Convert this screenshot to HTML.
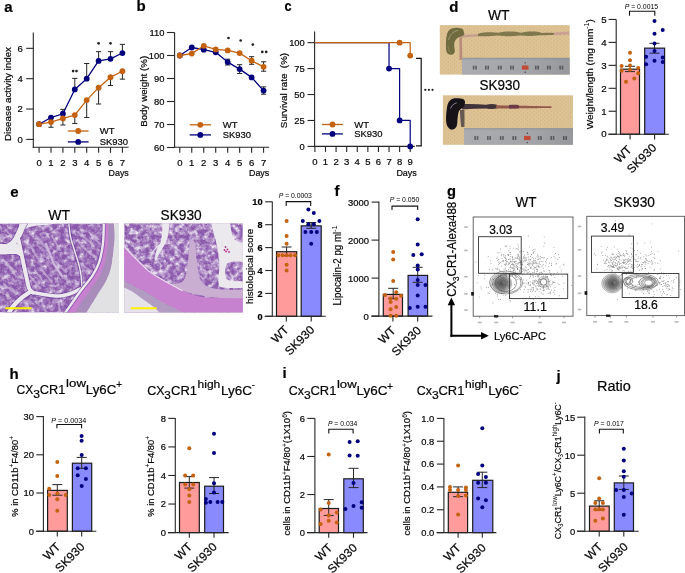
<!DOCTYPE html>
<html><head><meta charset="utf-8"><style>
html,body{margin:0;padding:0;background:#fff;}
svg{display:block;font-family:"Liberation Sans",sans-serif;will-change:transform;}
text{stroke:#161616;stroke-width:0.22px;}
</style></head><body>
<svg width="685" height="573" viewBox="0 0 685 573">
<defs>
<linearGradient id="rulerg" x1="0" y1="0" x2="1" y2="0">
<stop offset="0" stop-color="#aaacb0"/><stop offset="0.6" stop-color="#a3a5a9"/><stop offset="1" stop-color="#96989c"/>
</linearGradient>
<pattern id="spk" width="4.3" height="3.8" patternUnits="userSpaceOnUse"><circle cx="1" cy="1" r="0.5" fill="#8c6a3c" opacity="0.45"/><circle cx="3.15" cy="2.9" r="0.5" fill="#8c6a3c" opacity="0.4"/></pattern>
<radialGradient id="bg1"><stop offset="0" stop-color="#4a4a4a" stop-opacity="0.95"/><stop offset="0.5" stop-color="#6a6a6a" stop-opacity="0.75"/><stop offset="1" stop-color="#999" stop-opacity="0.25"/></radialGradient>
<filter id="txl5" x="0" y="0" width="1" height="1" filterUnits="objectBoundingBox"><feTurbulence type="fractalNoise" baseFrequency="0.2" numOctaves="3" seed="5"/><feColorMatrix type="matrix" values="0 0 0 0 0.80  0 0 0 0 0.74  0 0 0 0 0.85  2.6 0 0 0 -1.08"/></filter>
<filter id="txd5" x="0" y="0" width="1" height="1" filterUnits="objectBoundingBox"><feTurbulence type="fractalNoise" baseFrequency="0.3" numOctaves="2" seed="9"/><feColorMatrix type="matrix" values="0 0 0 0 0.40  0 0 0 0 0.22  0 0 0 0 0.56  0 2.5 0 0 -1.15"/></filter>
<filter id="txl7" x="0" y="0" width="1" height="1" filterUnits="objectBoundingBox"><feTurbulence type="fractalNoise" baseFrequency="0.2" numOctaves="3" seed="7"/><feColorMatrix type="matrix" values="0 0 0 0 0.83  0 0 0 0 0.77  0 0 0 0 0.87  2.7 0 0 0 -1.02"/></filter>
<filter id="txd7" x="0" y="0" width="1" height="1" filterUnits="objectBoundingBox"><feTurbulence type="fractalNoise" baseFrequency="0.3" numOctaves="2" seed="11"/><feColorMatrix type="matrix" values="0 0 0 0 0.40  0 0 0 0 0.22  0 0 0 0 0.56  0 2.5 0 0 -1.15"/></filter>
</defs>
<rect width="685" height="573" fill="#fff"/>
<text x="4.30" y="11.60" font-size="15" font-weight="bold" fill="#000">a</text>
<line x1="33.30" y1="32.50" x2="33.30" y2="147.70" stroke="#262626" stroke-width="1.1" />
<line x1="32.75" y1="147.20" x2="128.60" y2="147.20" stroke="#262626" stroke-width="1.1" />
<line x1="26.20" y1="139.40" x2="33.30" y2="139.40" stroke="#262626" stroke-width="1.1" />
<text x="22.90" y="142.80" font-size="9.5" text-anchor="end">0</text>
<line x1="26.20" y1="109.04" x2="33.30" y2="109.04" stroke="#262626" stroke-width="1.1" />
<text x="22.90" y="112.44" font-size="9.5" text-anchor="end">2</text>
<line x1="26.20" y1="78.68" x2="33.30" y2="78.68" stroke="#262626" stroke-width="1.1" />
<text x="22.90" y="82.08" font-size="9.5" text-anchor="end">4</text>
<line x1="26.20" y1="48.32" x2="33.30" y2="48.32" stroke="#262626" stroke-width="1.1" />
<text x="22.90" y="51.72" font-size="9.5" text-anchor="end">6</text>
<line x1="39.10" y1="147.20" x2="39.10" y2="152.80" stroke="#262626" stroke-width="1.1" />
<text x="39.10" y="165.90" font-size="9.5" text-anchor="middle">0</text>
<line x1="51.00" y1="147.20" x2="51.00" y2="152.80" stroke="#262626" stroke-width="1.1" />
<text x="51.00" y="165.90" font-size="9.5" text-anchor="middle">1</text>
<line x1="62.90" y1="147.20" x2="62.90" y2="152.80" stroke="#262626" stroke-width="1.1" />
<text x="62.90" y="165.90" font-size="9.5" text-anchor="middle">2</text>
<line x1="74.80" y1="147.20" x2="74.80" y2="152.80" stroke="#262626" stroke-width="1.1" />
<text x="74.80" y="165.90" font-size="9.5" text-anchor="middle">3</text>
<line x1="86.70" y1="147.20" x2="86.70" y2="152.80" stroke="#262626" stroke-width="1.1" />
<text x="86.70" y="165.90" font-size="9.5" text-anchor="middle">4</text>
<line x1="98.60" y1="147.20" x2="98.60" y2="152.80" stroke="#262626" stroke-width="1.1" />
<text x="98.60" y="165.90" font-size="9.5" text-anchor="middle">5</text>
<line x1="110.50" y1="147.20" x2="110.50" y2="152.80" stroke="#262626" stroke-width="1.1" />
<text x="110.50" y="165.90" font-size="9.5" text-anchor="middle">6</text>
<line x1="122.40" y1="147.20" x2="122.40" y2="152.80" stroke="#262626" stroke-width="1.1" />
<text x="122.40" y="165.90" font-size="9.5" text-anchor="middle">7</text>
<text x="108.60" y="175.60" font-size="9.6" textLength="20.2" lengthAdjust="spacingAndGlyphs">Days</text>
<text x="11.40" y="94.00" font-size="9.3" text-anchor="middle" textLength="94" lengthAdjust="spacingAndGlyphs" transform="rotate(-90 11.40 94.00)">Disease activity index</text>
<line x1="51.00" y1="122.09" x2="51.00" y2="127.26" stroke="#262626" stroke-width="1.0" />
<line x1="48.40" y1="127.26" x2="53.60" y2="127.26" stroke="#262626" stroke-width="1.0" />
<line x1="62.90" y1="118.45" x2="62.90" y2="124.98" stroke="#262626" stroke-width="1.0" />
<line x1="60.30" y1="124.98" x2="65.50" y2="124.98" stroke="#262626" stroke-width="1.0" />
<line x1="62.90" y1="113.75" x2="62.90" y2="109.34" stroke="#262626" stroke-width="1.0" />
<line x1="60.30" y1="109.34" x2="65.50" y2="109.34" stroke="#262626" stroke-width="1.0" />
<line x1="74.80" y1="115.11" x2="74.80" y2="123.46" stroke="#262626" stroke-width="1.0" />
<line x1="72.20" y1="123.46" x2="77.40" y2="123.46" stroke="#262626" stroke-width="1.0" />
<line x1="74.80" y1="89.46" x2="74.80" y2="78.38" stroke="#262626" stroke-width="1.0" />
<line x1="72.20" y1="78.38" x2="77.40" y2="78.38" stroke="#262626" stroke-width="1.0" />
<line x1="86.70" y1="100.08" x2="86.70" y2="117.54" stroke="#262626" stroke-width="1.0" />
<line x1="84.10" y1="117.54" x2="89.30" y2="117.54" stroke="#262626" stroke-width="1.0" />
<line x1="86.70" y1="78.68" x2="86.70" y2="63.50" stroke="#262626" stroke-width="1.0" />
<line x1="84.10" y1="63.50" x2="89.30" y2="63.50" stroke="#262626" stroke-width="1.0" />
<line x1="98.60" y1="87.64" x2="98.60" y2="104.03" stroke="#262626" stroke-width="1.0" />
<line x1="96.00" y1="104.03" x2="101.20" y2="104.03" stroke="#262626" stroke-width="1.0" />
<line x1="98.60" y1="60.92" x2="98.60" y2="51.66" stroke="#262626" stroke-width="1.0" />
<line x1="96.00" y1="51.66" x2="101.20" y2="51.66" stroke="#262626" stroke-width="1.0" />
<line x1="110.50" y1="77.16" x2="110.50" y2="85.51" stroke="#262626" stroke-width="1.0" />
<line x1="107.90" y1="85.51" x2="113.10" y2="85.51" stroke="#262626" stroke-width="1.0" />
<line x1="110.50" y1="58.79" x2="110.50" y2="51.66" stroke="#262626" stroke-width="1.0" />
<line x1="107.90" y1="51.66" x2="113.10" y2="51.66" stroke="#262626" stroke-width="1.0" />
<line x1="122.40" y1="71.24" x2="122.40" y2="79.14" stroke="#262626" stroke-width="1.0" />
<line x1="119.80" y1="79.14" x2="125.00" y2="79.14" stroke="#262626" stroke-width="1.0" />
<line x1="122.40" y1="53.03" x2="122.40" y2="44.37" stroke="#262626" stroke-width="1.0" />
<line x1="119.80" y1="44.37" x2="125.00" y2="44.37" stroke="#262626" stroke-width="1.0" />
<polyline points="39.10,124.22 51.00,117.54 62.90,113.75 74.80,89.46 86.70,78.68 98.60,60.92 110.50,58.79 122.40,53.03" fill="none" stroke="#00007f" stroke-width="1.3" stroke-linejoin="round" />
<polyline points="39.10,124.22 51.00,122.09 62.90,118.45 74.80,115.11 86.70,100.08 98.60,87.64 110.50,77.16 122.40,71.24" fill="none" stroke="#c4620f" stroke-width="1.3" stroke-linejoin="round" />
<circle cx="39.10" cy="124.22" r="2.9" fill="#00007f"/>
<circle cx="51.00" cy="117.54" r="2.9" fill="#00007f"/>
<circle cx="62.90" cy="113.75" r="2.9" fill="#00007f"/>
<circle cx="74.80" cy="89.46" r="2.9" fill="#00007f"/>
<circle cx="86.70" cy="78.68" r="2.9" fill="#00007f"/>
<circle cx="98.60" cy="60.92" r="2.9" fill="#00007f"/>
<circle cx="110.50" cy="58.79" r="2.9" fill="#00007f"/>
<circle cx="122.40" cy="53.03" r="2.9" fill="#00007f"/>
<circle cx="39.10" cy="124.22" r="2.9" fill="#c4620f"/>
<circle cx="51.00" cy="122.09" r="2.9" fill="#c4620f"/>
<circle cx="62.90" cy="118.45" r="2.9" fill="#c4620f"/>
<circle cx="74.80" cy="115.11" r="2.9" fill="#c4620f"/>
<circle cx="86.70" cy="100.08" r="2.9" fill="#c4620f"/>
<circle cx="98.60" cy="87.64" r="2.9" fill="#c4620f"/>
<circle cx="110.50" cy="77.16" r="2.9" fill="#c4620f"/>
<circle cx="122.40" cy="71.24" r="2.9" fill="#c4620f"/>
<circle cx="73.10" cy="71.10" r="1.35" fill="#222"/>
<circle cx="76.50" cy="71.10" r="1.35" fill="#222"/>
<circle cx="98.60" cy="43.30" r="1.35" fill="#222"/>
<circle cx="110.50" cy="43.30" r="1.35" fill="#222"/>
<line x1="67.80" y1="131.00" x2="88.60" y2="131.00" stroke="#c4620f" stroke-width="1.3" />
<circle cx="78.20" cy="131.00" r="2.9" fill="#c4620f"/>
<line x1="67.80" y1="141.90" x2="88.60" y2="141.90" stroke="#00007f" stroke-width="1.3" />
<circle cx="78.20" cy="141.90" r="2.9" fill="#00007f"/>
<text x="99.80" y="134.47" font-size="9.7" textLength="14.8" lengthAdjust="spacingAndGlyphs">WT</text>
<text x="99.80" y="145.37" font-size="9.7" textLength="28.3" lengthAdjust="spacingAndGlyphs">SK930</text>
<text x="136.50" y="11.40" font-size="15" font-weight="bold" fill="#000">b</text>
<line x1="174.60" y1="32.50" x2="174.60" y2="147.80" stroke="#262626" stroke-width="1.1" />
<line x1="174.05" y1="147.30" x2="269.20" y2="147.30" stroke="#262626" stroke-width="1.1" />
<line x1="167.00" y1="147.50" x2="174.60" y2="147.50" stroke="#262626" stroke-width="1.1" />
<text x="164.50" y="150.87" font-size="9.4" text-anchor="end">60</text>
<line x1="167.00" y1="124.50" x2="174.60" y2="124.50" stroke="#262626" stroke-width="1.1" />
<text x="164.50" y="127.87" font-size="9.4" text-anchor="end">70</text>
<line x1="167.00" y1="101.50" x2="174.60" y2="101.50" stroke="#262626" stroke-width="1.1" />
<text x="164.50" y="104.87" font-size="9.4" text-anchor="end">80</text>
<line x1="167.00" y1="78.50" x2="174.60" y2="78.50" stroke="#262626" stroke-width="1.1" />
<text x="164.50" y="81.87" font-size="9.4" text-anchor="end">90</text>
<line x1="167.00" y1="55.50" x2="174.60" y2="55.50" stroke="#262626" stroke-width="1.1" />
<text x="164.50" y="58.87" font-size="9.4" text-anchor="end">100</text>
<line x1="167.00" y1="32.50" x2="174.60" y2="32.50" stroke="#262626" stroke-width="1.1" />
<text x="164.50" y="35.87" font-size="9.4" text-anchor="end">110</text>
<line x1="179.80" y1="147.30" x2="179.80" y2="152.80" stroke="#262626" stroke-width="1.1" />
<text x="179.80" y="166.10" font-size="9.5" text-anchor="middle">0</text>
<line x1="191.77" y1="147.30" x2="191.77" y2="152.80" stroke="#262626" stroke-width="1.1" />
<text x="191.77" y="166.10" font-size="9.5" text-anchor="middle">1</text>
<line x1="203.74" y1="147.30" x2="203.74" y2="152.80" stroke="#262626" stroke-width="1.1" />
<text x="203.74" y="166.10" font-size="9.5" text-anchor="middle">2</text>
<line x1="215.71" y1="147.30" x2="215.71" y2="152.80" stroke="#262626" stroke-width="1.1" />
<text x="215.71" y="166.10" font-size="9.5" text-anchor="middle">3</text>
<line x1="227.68" y1="147.30" x2="227.68" y2="152.80" stroke="#262626" stroke-width="1.1" />
<text x="227.68" y="166.10" font-size="9.5" text-anchor="middle">4</text>
<line x1="239.65" y1="147.30" x2="239.65" y2="152.80" stroke="#262626" stroke-width="1.1" />
<text x="239.65" y="166.10" font-size="9.5" text-anchor="middle">5</text>
<line x1="251.62" y1="147.30" x2="251.62" y2="152.80" stroke="#262626" stroke-width="1.1" />
<text x="251.62" y="166.10" font-size="9.5" text-anchor="middle">6</text>
<line x1="263.59" y1="147.30" x2="263.59" y2="152.80" stroke="#262626" stroke-width="1.1" />
<text x="263.59" y="166.10" font-size="9.5" text-anchor="middle">7</text>
<text x="249.00" y="175.60" font-size="9.6" textLength="20.2" lengthAdjust="spacingAndGlyphs">Days</text>
<text x="146.80" y="91.30" font-size="9.3" text-anchor="middle" textLength="71" lengthAdjust="spacingAndGlyphs" transform="rotate(-90 146.80 91.30)">Body weight (%)</text>
<line x1="227.68" y1="59.20" x2="227.68" y2="65.00" stroke="#262626" stroke-width="1.0" />
<line x1="225.08" y1="59.20" x2="230.28" y2="59.20" stroke="#262626" stroke-width="1.0" />
<line x1="225.08" y1="65.00" x2="230.28" y2="65.00" stroke="#262626" stroke-width="1.0" />
<line x1="239.65" y1="64.70" x2="239.65" y2="73.50" stroke="#262626" stroke-width="1.0" />
<line x1="237.05" y1="64.70" x2="242.25" y2="64.70" stroke="#262626" stroke-width="1.0" />
<line x1="237.05" y1="73.50" x2="242.25" y2="73.50" stroke="#262626" stroke-width="1.0" />
<line x1="263.59" y1="86.90" x2="263.59" y2="94.20" stroke="#262626" stroke-width="1.0" />
<line x1="260.99" y1="86.90" x2="266.19" y2="86.90" stroke="#262626" stroke-width="1.0" />
<line x1="260.99" y1="94.20" x2="266.19" y2="94.20" stroke="#262626" stroke-width="1.0" />
<line x1="251.62" y1="56.70" x2="251.62" y2="64.30" stroke="#262626" stroke-width="1.0" />
<line x1="249.02" y1="56.70" x2="254.22" y2="56.70" stroke="#262626" stroke-width="1.0" />
<line x1="249.02" y1="64.30" x2="254.22" y2="64.30" stroke="#262626" stroke-width="1.0" />
<line x1="263.59" y1="61.80" x2="263.59" y2="71.20" stroke="#262626" stroke-width="1.0" />
<line x1="260.99" y1="61.80" x2="266.19" y2="61.80" stroke="#262626" stroke-width="1.0" />
<line x1="260.99" y1="71.20" x2="266.19" y2="71.20" stroke="#262626" stroke-width="1.0" />
<polyline points="179.80,55.50 191.77,47.50 203.74,49.70 215.71,52.30 227.68,62.10 239.65,69.10 251.62,77.40 263.59,90.60" fill="none" stroke="#00007f" stroke-width="1.3" stroke-linejoin="round" />
<polyline points="179.80,55.50 191.77,53.60 203.74,45.80 215.71,49.40 227.68,50.40 239.65,53.10 251.62,60.70 263.59,66.80" fill="none" stroke="#c4620f" stroke-width="1.3" stroke-linejoin="round" />
<circle cx="179.80" cy="55.50" r="2.9" fill="#00007f"/>
<circle cx="191.77" cy="47.50" r="2.9" fill="#00007f"/>
<circle cx="203.74" cy="49.70" r="2.9" fill="#00007f"/>
<circle cx="215.71" cy="52.30" r="2.9" fill="#00007f"/>
<circle cx="227.68" cy="62.10" r="2.9" fill="#00007f"/>
<circle cx="239.65" cy="69.10" r="2.9" fill="#00007f"/>
<circle cx="251.62" cy="77.40" r="2.9" fill="#00007f"/>
<circle cx="263.59" cy="90.60" r="2.9" fill="#00007f"/>
<circle cx="179.80" cy="55.50" r="2.9" fill="#c4620f"/>
<circle cx="191.77" cy="53.60" r="2.9" fill="#c4620f"/>
<circle cx="203.74" cy="45.80" r="2.9" fill="#c4620f"/>
<circle cx="215.71" cy="49.40" r="2.9" fill="#c4620f"/>
<circle cx="227.68" cy="50.40" r="2.9" fill="#c4620f"/>
<circle cx="239.65" cy="53.10" r="2.9" fill="#c4620f"/>
<circle cx="251.62" cy="60.70" r="2.9" fill="#c4620f"/>
<circle cx="263.59" cy="66.80" r="2.9" fill="#c4620f"/>
<circle cx="228.50" cy="38.00" r="1.35" fill="#222"/>
<circle cx="240.70" cy="40.50" r="1.35" fill="#222"/>
<circle cx="252.80" cy="44.60" r="1.35" fill="#222"/>
<circle cx="262.30" cy="51.90" r="1.35" fill="#222"/>
<circle cx="266.20" cy="51.90" r="1.35" fill="#222"/>
<line x1="189.70" y1="124.80" x2="211.00" y2="124.80" stroke="#c4620f" stroke-width="1.3" />
<circle cx="200.30" cy="124.80" r="2.9" fill="#c4620f"/>
<line x1="189.70" y1="134.90" x2="211.00" y2="134.90" stroke="#00007f" stroke-width="1.3" />
<circle cx="200.30" cy="134.90" r="2.9" fill="#00007f"/>
<text x="222.80" y="128.27" font-size="9.7" textLength="14.8" lengthAdjust="spacingAndGlyphs">WT</text>
<text x="222.80" y="138.37" font-size="9.7" textLength="28.3" lengthAdjust="spacingAndGlyphs">SK930</text>
<text x="284.60" y="11.40" font-size="15" font-weight="bold" textLength="7.0" lengthAdjust="spacingAndGlyphs" fill="#000">c</text>
<line x1="314.60" y1="31.40" x2="314.60" y2="146.90" stroke="#262626" stroke-width="1.1" />
<line x1="314.05" y1="146.40" x2="414.80" y2="146.40" stroke="#262626" stroke-width="1.1" />
<line x1="307.50" y1="146.40" x2="314.60" y2="146.40" stroke="#262626" stroke-width="1.1" />
<text x="304.80" y="149.77" font-size="9.4" text-anchor="end">0</text>
<line x1="307.50" y1="120.46" x2="314.60" y2="120.46" stroke="#262626" stroke-width="1.1" />
<text x="304.80" y="123.83" font-size="9.4" text-anchor="end">25</text>
<line x1="307.50" y1="94.52" x2="314.60" y2="94.52" stroke="#262626" stroke-width="1.1" />
<text x="304.80" y="97.89" font-size="9.4" text-anchor="end">50</text>
<line x1="307.50" y1="68.58" x2="314.60" y2="68.58" stroke="#262626" stroke-width="1.1" />
<text x="304.80" y="71.95" font-size="9.4" text-anchor="end">75</text>
<line x1="307.50" y1="42.64" x2="314.60" y2="42.64" stroke="#262626" stroke-width="1.1" />
<text x="304.80" y="46.01" font-size="9.4" text-anchor="end">100</text>
<line x1="314.90" y1="146.40" x2="314.90" y2="151.90" stroke="#262626" stroke-width="1.1" />
<text x="314.90" y="164.80" font-size="9.5" text-anchor="middle">0</text>
<line x1="325.49" y1="146.40" x2="325.49" y2="151.90" stroke="#262626" stroke-width="1.1" />
<text x="325.49" y="164.80" font-size="9.5" text-anchor="middle">1</text>
<line x1="336.08" y1="146.40" x2="336.08" y2="151.90" stroke="#262626" stroke-width="1.1" />
<text x="336.08" y="164.80" font-size="9.5" text-anchor="middle">2</text>
<line x1="346.67" y1="146.40" x2="346.67" y2="151.90" stroke="#262626" stroke-width="1.1" />
<text x="346.67" y="164.80" font-size="9.5" text-anchor="middle">3</text>
<line x1="357.26" y1="146.40" x2="357.26" y2="151.90" stroke="#262626" stroke-width="1.1" />
<text x="357.26" y="164.80" font-size="9.5" text-anchor="middle">4</text>
<line x1="367.85" y1="146.40" x2="367.85" y2="151.90" stroke="#262626" stroke-width="1.1" />
<text x="367.85" y="164.80" font-size="9.5" text-anchor="middle">5</text>
<line x1="378.44" y1="146.40" x2="378.44" y2="151.90" stroke="#262626" stroke-width="1.1" />
<text x="378.44" y="164.80" font-size="9.5" text-anchor="middle">6</text>
<line x1="389.03" y1="146.40" x2="389.03" y2="151.90" stroke="#262626" stroke-width="1.1" />
<text x="389.03" y="164.80" font-size="9.5" text-anchor="middle">7</text>
<line x1="399.62" y1="146.40" x2="399.62" y2="151.90" stroke="#262626" stroke-width="1.1" />
<text x="399.62" y="164.80" font-size="9.5" text-anchor="middle">8</text>
<line x1="410.21" y1="146.40" x2="410.21" y2="151.90" stroke="#262626" stroke-width="1.1" />
<text x="410.21" y="164.80" font-size="9.5" text-anchor="middle">9</text>
<text x="396.40" y="175.60" font-size="9.6" textLength="20.4" lengthAdjust="spacingAndGlyphs">Days</text>
<text x="286.80" y="90.50" font-size="9.3" text-anchor="middle" textLength="75.3" lengthAdjust="spacingAndGlyphs" transform="rotate(-90 286.80 90.50)" style="white-space:pre">Survival rate  (%)</text>
<polyline points="314.60,42.64 389.03,42.64 389.03,68.58 399.62,68.58 399.62,120.46 410.21,120.46 410.21,146.40" fill="none" stroke="#00007f" stroke-width="1.2" stroke-linejoin="round" stroke-linejoin="miter"/>
<polyline points="314.60,42.64 410.21,42.64 410.21,55.61" fill="none" stroke="#c4620f" stroke-width="1.2" stroke-linejoin="round" stroke-linejoin="miter"/>
<circle cx="389.03" cy="68.58" r="2.9" fill="#00007f"/>
<circle cx="399.62" cy="120.46" r="2.9" fill="#00007f"/>
<circle cx="410.21" cy="146.40" r="2.9" fill="#00007f"/>
<circle cx="399.62" cy="42.64" r="2.9" fill="#c4620f"/>
<circle cx="410.21" cy="55.61" r="2.9" fill="#c4620f"/>
<path d="M416.0,58.3 H421.2 V145.8 H416.0" fill="none" stroke="#111" stroke-width="1.2" />
<circle cx="425.30" cy="89.80" r="1.15" fill="#222"/>
<circle cx="428.90" cy="89.80" r="1.15" fill="#222"/>
<circle cx="432.50" cy="89.80" r="1.15" fill="#222"/>
<line x1="321.90" y1="124.50" x2="342.90" y2="124.50" stroke="#c4620f" stroke-width="1.3" />
<circle cx="332.50" cy="124.50" r="2.9" fill="#c4620f"/>
<line x1="321.90" y1="133.90" x2="342.90" y2="133.90" stroke="#00007f" stroke-width="1.3" />
<circle cx="332.50" cy="133.90" r="2.9" fill="#00007f"/>
<text x="354.20" y="127.97" font-size="9.7" textLength="14.8" lengthAdjust="spacingAndGlyphs">WT</text>
<text x="354.20" y="137.37" font-size="9.7" textLength="28.3" lengthAdjust="spacingAndGlyphs">SK930</text>
<text x="449.20" y="11.60" font-size="15" font-weight="bold" fill="#000">d</text>
<text x="487.90" y="19.50" font-size="14" textLength="21.6" lengthAdjust="spacingAndGlyphs">WT</text>
<text x="479.50" y="90.10" font-size="14.3" textLength="40.6" lengthAdjust="spacingAndGlyphs">SK930</text>
<g>
<rect x="439.80" y="25.10" width="129.90" height="49.50" fill="#dec395" />
<rect x="439.80" y="25.10" width="129.90" height="49.50" fill="url(#spk)" />
<rect x="462.0" y="57.9" width="107.70000000000005" height="16.699999999999996" fill="url(#rulerg)"/>
<line x1="462.00" y1="58.30" x2="569.70" y2="58.30" stroke="#8f9296" stroke-width="0.8" />
<rect x="472.80" y="65.70" width="1.60" height="3.80" fill="#2a2b2e" opacity="0.6"/>
<rect x="475.20" y="65.70" width="1.60" height="3.80" fill="#2a2b2e" opacity="0.6"/>
<rect x="485.00" y="65.70" width="1.60" height="3.80" fill="#2a2b2e" opacity="0.6"/>
<rect x="487.40" y="65.70" width="1.60" height="3.80" fill="#2a2b2e" opacity="0.6"/>
<rect x="497.80" y="65.70" width="1.60" height="3.80" fill="#2a2b2e" opacity="0.6"/>
<rect x="500.20" y="65.70" width="1.60" height="3.80" fill="#2a2b2e" opacity="0.6"/>
<rect x="510.00" y="65.70" width="1.60" height="3.80" fill="#2a2b2e" opacity="0.6"/>
<rect x="512.40" y="65.70" width="1.60" height="3.80" fill="#2a2b2e" opacity="0.6"/>
<rect x="521.90" y="65.50" width="6.60" height="4.20" fill="#c24a38" />
<circle cx="525.20" cy="62.80" r="0.6" fill="#222"/>
<circle cx="525.20" cy="72.20" r="0.6" fill="#222"/>
<rect x="535.00" y="65.70" width="1.60" height="3.80" fill="#2a2b2e" opacity="0.6"/>
<rect x="537.40" y="65.70" width="1.60" height="3.80" fill="#2a2b2e" opacity="0.6"/>
<rect x="546.90" y="65.70" width="1.60" height="3.80" fill="#2a2b2e" opacity="0.6"/>
<rect x="549.30" y="65.70" width="1.60" height="3.80" fill="#2a2b2e" opacity="0.6"/>
<rect x="559.30" y="65.70" width="1.60" height="3.80" fill="#2a2b2e" opacity="0.6"/>
<rect x="561.70" y="65.70" width="1.60" height="3.80" fill="#2a2b2e" opacity="0.6"/>
<line x1="464.00" y1="58.40" x2="464.00" y2="59.90" stroke="#8a8d92" stroke-width="0.4" />
<line x1="466.45" y1="58.40" x2="466.45" y2="59.90" stroke="#8a8d92" stroke-width="0.4" />
<line x1="468.90" y1="58.40" x2="468.90" y2="59.90" stroke="#8a8d92" stroke-width="0.4" />
<line x1="471.35" y1="58.40" x2="471.35" y2="59.90" stroke="#8a8d92" stroke-width="0.4" />
<line x1="473.80" y1="58.40" x2="473.80" y2="59.90" stroke="#8a8d92" stroke-width="0.4" />
<line x1="476.25" y1="58.40" x2="476.25" y2="59.90" stroke="#8a8d92" stroke-width="0.4" />
<line x1="478.70" y1="58.40" x2="478.70" y2="59.90" stroke="#8a8d92" stroke-width="0.4" />
<line x1="481.15" y1="58.40" x2="481.15" y2="59.90" stroke="#8a8d92" stroke-width="0.4" />
<line x1="483.60" y1="58.40" x2="483.60" y2="59.90" stroke="#8a8d92" stroke-width="0.4" />
<line x1="486.05" y1="58.40" x2="486.05" y2="59.90" stroke="#8a8d92" stroke-width="0.4" />
<line x1="488.50" y1="58.40" x2="488.50" y2="59.90" stroke="#8a8d92" stroke-width="0.4" />
<line x1="490.95" y1="58.40" x2="490.95" y2="59.90" stroke="#8a8d92" stroke-width="0.4" />
<line x1="493.40" y1="58.40" x2="493.40" y2="59.90" stroke="#8a8d92" stroke-width="0.4" />
<line x1="495.85" y1="58.40" x2="495.85" y2="59.90" stroke="#8a8d92" stroke-width="0.4" />
<line x1="498.30" y1="58.40" x2="498.30" y2="59.90" stroke="#8a8d92" stroke-width="0.4" />
<line x1="500.75" y1="58.40" x2="500.75" y2="59.90" stroke="#8a8d92" stroke-width="0.4" />
<line x1="503.20" y1="58.40" x2="503.20" y2="59.90" stroke="#8a8d92" stroke-width="0.4" />
<line x1="505.65" y1="58.40" x2="505.65" y2="59.90" stroke="#8a8d92" stroke-width="0.4" />
<line x1="508.10" y1="58.40" x2="508.10" y2="59.90" stroke="#8a8d92" stroke-width="0.4" />
<line x1="510.55" y1="58.40" x2="510.55" y2="59.90" stroke="#8a8d92" stroke-width="0.4" />
<line x1="513.00" y1="58.40" x2="513.00" y2="59.90" stroke="#8a8d92" stroke-width="0.4" />
<line x1="515.45" y1="58.40" x2="515.45" y2="59.90" stroke="#8a8d92" stroke-width="0.4" />
<line x1="517.90" y1="58.40" x2="517.90" y2="59.90" stroke="#8a8d92" stroke-width="0.4" />
<line x1="520.35" y1="58.40" x2="520.35" y2="59.90" stroke="#8a8d92" stroke-width="0.4" />
<line x1="522.80" y1="58.40" x2="522.80" y2="59.90" stroke="#8a8d92" stroke-width="0.4" />
<line x1="525.25" y1="58.40" x2="525.25" y2="59.90" stroke="#8a8d92" stroke-width="0.4" />
<line x1="527.70" y1="58.40" x2="527.70" y2="59.90" stroke="#8a8d92" stroke-width="0.4" />
<line x1="530.15" y1="58.40" x2="530.15" y2="59.90" stroke="#8a8d92" stroke-width="0.4" />
<line x1="532.60" y1="58.40" x2="532.60" y2="59.90" stroke="#8a8d92" stroke-width="0.4" />
<line x1="535.05" y1="58.40" x2="535.05" y2="59.90" stroke="#8a8d92" stroke-width="0.4" />
<line x1="537.50" y1="58.40" x2="537.50" y2="59.90" stroke="#8a8d92" stroke-width="0.4" />
<line x1="539.95" y1="58.40" x2="539.95" y2="59.90" stroke="#8a8d92" stroke-width="0.4" />
<line x1="542.40" y1="58.40" x2="542.40" y2="59.90" stroke="#8a8d92" stroke-width="0.4" />
<line x1="544.85" y1="58.40" x2="544.85" y2="59.90" stroke="#8a8d92" stroke-width="0.4" />
<line x1="547.30" y1="58.40" x2="547.30" y2="59.90" stroke="#8a8d92" stroke-width="0.4" />
<line x1="549.75" y1="58.40" x2="549.75" y2="59.90" stroke="#8a8d92" stroke-width="0.4" />
<line x1="552.20" y1="58.40" x2="552.20" y2="59.90" stroke="#8a8d92" stroke-width="0.4" />
<line x1="554.65" y1="58.40" x2="554.65" y2="59.90" stroke="#8a8d92" stroke-width="0.4" />
<line x1="557.10" y1="58.40" x2="557.10" y2="59.90" stroke="#8a8d92" stroke-width="0.4" />
<line x1="559.55" y1="58.40" x2="559.55" y2="59.90" stroke="#8a8d92" stroke-width="0.4" />
<line x1="562.00" y1="58.40" x2="562.00" y2="59.90" stroke="#8a8d92" stroke-width="0.4" />
<line x1="564.45" y1="58.40" x2="564.45" y2="59.90" stroke="#8a8d92" stroke-width="0.4" />
<line x1="566.90" y1="58.40" x2="566.90" y2="59.90" stroke="#8a8d92" stroke-width="0.4" />
<path d="M459.4,37 C459.2,44 459.8,51 459.4,60 L462.2,60 C462.6,51 461.8,44 462.0,37 Z" fill="#b98b79" />
<path d="M459,35.4 C466,34.8 473,34.4 480,34.0 L480,36.6 C473,36.8 466,37.2 459,38.0 Z" fill="#c6a08c" />
<path d="M478,33.8 C484,31.8 493,32.0 498,32.8 C505,31.2 515,31.2 521,32.8 C528,31.0 537,31.2 542,33.0 C548,32.8 552,32.8 555,33.2 L555,34.8 C548,35.2 544,35.4 540,35.2 C532,36.2 526,36.0 520,35.4 C512,36.4 504,36.4 498,35.6 C490,36.4 484,36.4 478,36.0 Z" fill="#7f784c" />
<path d="M554,32.4 C560,32.2 565,32.0 569,31.6 L569,34.8 C565,34.6 560,34.8 554,35.2 Z" fill="#c9a292" />
<path d="M463.9,32.2 C463.6,30.0 462.8,28.9 462.0,28.7 C459.5,27.8 457.5,27.6 455.7,27.8 C453.5,28.0 452.0,28.4 450.7,29.0 C448.2,30.6 447.2,32.6 446.9,34.7 C446.3,37.2 446.0,39.4 446.0,41.6 C446.0,44.4 445.9,46.8 446.0,49.1 C446.3,51.6 447.0,53.4 448.2,54.1 C449.6,54.8 451.2,54.8 452.6,54.5 C454.2,53.6 455.0,52.0 454.8,50.4 C454.6,48.4 454.1,46.6 454.1,44.7 C454.2,43.0 454.6,41.6 455.4,40.3 C456.4,38.8 457.5,37.8 458.8,37.2 C460.0,36.6 461.3,36.2 462.6,35.9 C463.4,35.4 464.1,34.8 464.5,34.0 Z" fill="#716c40" />
<path d="M448.6,40 C449.4,35.5 452.5,31.5 458,30.4" fill="none" stroke="#a8a27a" stroke-width="0.9" />
<path d="M448.2,46 C448.2,49 449,51 450.5,52.5" fill="none" stroke="#8f8a62" stroke-width="0.7" />
</g>
<g>
<rect x="442.90" y="95.30" width="130.10" height="49.50" fill="#dec395" />
<rect x="442.90" y="95.30" width="130.10" height="49.50" fill="url(#spk)" />
<rect x="464.0" y="128.3" width="109.0" height="16.5" fill="url(#rulerg)"/>
<line x1="464.00" y1="128.70" x2="573.00" y2="128.70" stroke="#8f9296" stroke-width="0.8" />
<rect x="474.30" y="136.10" width="1.60" height="3.80" fill="#2a2b2e" opacity="0.6"/>
<rect x="476.70" y="136.10" width="1.60" height="3.80" fill="#2a2b2e" opacity="0.6"/>
<rect x="487.00" y="136.10" width="1.60" height="3.80" fill="#2a2b2e" opacity="0.6"/>
<rect x="489.40" y="136.10" width="1.60" height="3.80" fill="#2a2b2e" opacity="0.6"/>
<rect x="499.80" y="136.10" width="1.60" height="3.80" fill="#2a2b2e" opacity="0.6"/>
<rect x="502.20" y="136.10" width="1.60" height="3.80" fill="#2a2b2e" opacity="0.6"/>
<rect x="512.40" y="136.10" width="1.60" height="3.80" fill="#2a2b2e" opacity="0.6"/>
<rect x="514.80" y="136.10" width="1.60" height="3.80" fill="#2a2b2e" opacity="0.6"/>
<rect x="524.00" y="135.90" width="6.60" height="4.20" fill="#c24a38" />
<circle cx="527.30" cy="133.20" r="0.6" fill="#222"/>
<circle cx="527.30" cy="142.60" r="0.6" fill="#222"/>
<rect x="537.80" y="136.10" width="1.60" height="3.80" fill="#2a2b2e" opacity="0.6"/>
<rect x="540.20" y="136.10" width="1.60" height="3.80" fill="#2a2b2e" opacity="0.6"/>
<rect x="550.40" y="136.10" width="1.60" height="3.80" fill="#2a2b2e" opacity="0.6"/>
<rect x="552.80" y="136.10" width="1.60" height="3.80" fill="#2a2b2e" opacity="0.6"/>
<rect x="563.00" y="136.10" width="1.60" height="3.80" fill="#2a2b2e" opacity="0.6"/>
<rect x="565.40" y="136.10" width="1.60" height="3.80" fill="#2a2b2e" opacity="0.6"/>
<line x1="466.00" y1="128.80" x2="466.00" y2="130.30" stroke="#8a8d92" stroke-width="0.4" />
<line x1="468.45" y1="128.80" x2="468.45" y2="130.30" stroke="#8a8d92" stroke-width="0.4" />
<line x1="470.90" y1="128.80" x2="470.90" y2="130.30" stroke="#8a8d92" stroke-width="0.4" />
<line x1="473.35" y1="128.80" x2="473.35" y2="130.30" stroke="#8a8d92" stroke-width="0.4" />
<line x1="475.80" y1="128.80" x2="475.80" y2="130.30" stroke="#8a8d92" stroke-width="0.4" />
<line x1="478.25" y1="128.80" x2="478.25" y2="130.30" stroke="#8a8d92" stroke-width="0.4" />
<line x1="480.70" y1="128.80" x2="480.70" y2="130.30" stroke="#8a8d92" stroke-width="0.4" />
<line x1="483.15" y1="128.80" x2="483.15" y2="130.30" stroke="#8a8d92" stroke-width="0.4" />
<line x1="485.60" y1="128.80" x2="485.60" y2="130.30" stroke="#8a8d92" stroke-width="0.4" />
<line x1="488.05" y1="128.80" x2="488.05" y2="130.30" stroke="#8a8d92" stroke-width="0.4" />
<line x1="490.50" y1="128.80" x2="490.50" y2="130.30" stroke="#8a8d92" stroke-width="0.4" />
<line x1="492.95" y1="128.80" x2="492.95" y2="130.30" stroke="#8a8d92" stroke-width="0.4" />
<line x1="495.40" y1="128.80" x2="495.40" y2="130.30" stroke="#8a8d92" stroke-width="0.4" />
<line x1="497.85" y1="128.80" x2="497.85" y2="130.30" stroke="#8a8d92" stroke-width="0.4" />
<line x1="500.30" y1="128.80" x2="500.30" y2="130.30" stroke="#8a8d92" stroke-width="0.4" />
<line x1="502.75" y1="128.80" x2="502.75" y2="130.30" stroke="#8a8d92" stroke-width="0.4" />
<line x1="505.20" y1="128.80" x2="505.20" y2="130.30" stroke="#8a8d92" stroke-width="0.4" />
<line x1="507.65" y1="128.80" x2="507.65" y2="130.30" stroke="#8a8d92" stroke-width="0.4" />
<line x1="510.10" y1="128.80" x2="510.10" y2="130.30" stroke="#8a8d92" stroke-width="0.4" />
<line x1="512.55" y1="128.80" x2="512.55" y2="130.30" stroke="#8a8d92" stroke-width="0.4" />
<line x1="515.00" y1="128.80" x2="515.00" y2="130.30" stroke="#8a8d92" stroke-width="0.4" />
<line x1="517.45" y1="128.80" x2="517.45" y2="130.30" stroke="#8a8d92" stroke-width="0.4" />
<line x1="519.90" y1="128.80" x2="519.90" y2="130.30" stroke="#8a8d92" stroke-width="0.4" />
<line x1="522.35" y1="128.80" x2="522.35" y2="130.30" stroke="#8a8d92" stroke-width="0.4" />
<line x1="524.80" y1="128.80" x2="524.80" y2="130.30" stroke="#8a8d92" stroke-width="0.4" />
<line x1="527.25" y1="128.80" x2="527.25" y2="130.30" stroke="#8a8d92" stroke-width="0.4" />
<line x1="529.70" y1="128.80" x2="529.70" y2="130.30" stroke="#8a8d92" stroke-width="0.4" />
<line x1="532.15" y1="128.80" x2="532.15" y2="130.30" stroke="#8a8d92" stroke-width="0.4" />
<line x1="534.60" y1="128.80" x2="534.60" y2="130.30" stroke="#8a8d92" stroke-width="0.4" />
<line x1="537.05" y1="128.80" x2="537.05" y2="130.30" stroke="#8a8d92" stroke-width="0.4" />
<line x1="539.50" y1="128.80" x2="539.50" y2="130.30" stroke="#8a8d92" stroke-width="0.4" />
<line x1="541.95" y1="128.80" x2="541.95" y2="130.30" stroke="#8a8d92" stroke-width="0.4" />
<line x1="544.40" y1="128.80" x2="544.40" y2="130.30" stroke="#8a8d92" stroke-width="0.4" />
<line x1="546.85" y1="128.80" x2="546.85" y2="130.30" stroke="#8a8d92" stroke-width="0.4" />
<line x1="549.30" y1="128.80" x2="549.30" y2="130.30" stroke="#8a8d92" stroke-width="0.4" />
<line x1="551.75" y1="128.80" x2="551.75" y2="130.30" stroke="#8a8d92" stroke-width="0.4" />
<line x1="554.20" y1="128.80" x2="554.20" y2="130.30" stroke="#8a8d92" stroke-width="0.4" />
<line x1="556.65" y1="128.80" x2="556.65" y2="130.30" stroke="#8a8d92" stroke-width="0.4" />
<line x1="559.10" y1="128.80" x2="559.10" y2="130.30" stroke="#8a8d92" stroke-width="0.4" />
<line x1="561.55" y1="128.80" x2="561.55" y2="130.30" stroke="#8a8d92" stroke-width="0.4" />
<line x1="564.00" y1="128.80" x2="564.00" y2="130.30" stroke="#8a8d92" stroke-width="0.4" />
<line x1="566.45" y1="128.80" x2="566.45" y2="130.30" stroke="#8a8d92" stroke-width="0.4" />
<line x1="568.90" y1="128.80" x2="568.90" y2="130.30" stroke="#8a8d92" stroke-width="0.4" />
<line x1="571.35" y1="128.80" x2="571.35" y2="130.30" stroke="#8a8d92" stroke-width="0.4" />
<path d="M460.0,110 C460.0,116 460.6,122 461.2,127 L464.4,127 C464.6,121 464.6,115 464.4,110 Z" fill="#665850" />
<path d="M462,104.2 C470,103.6 478,104.0 486,104.8 C490,103.8 494,104.0 497,104.8 L497,108.6 C493,109.2 490,109.0 486,108.4 C478,108.6 470,108.8 462,109.4 Z" fill="#42323a" />
<path d="M496,105.2 C520,105.6 535,106.0 551.5,106.2 L551.5,108.0 C535,108.2 520,108.4 496,108.6 Z" fill="#955a4e" />
<path d="M509,105.0 C512,104.6 516,104.6 519,105.2 L519,108.2 C516,108.6 512,108.6 509,108.4 Z" fill="#6a3c48" />
<path d="M456.0,98.2 C459.0,98.0 461.2,98.2 462.9,98.9 C464.2,99.6 465.0,100.6 465.0,101.7 C465.0,103.4 464.8,104.8 464.3,105.9 C463.2,107.6 461.4,108.4 460.2,109.4 C458.9,110.8 458.3,112.4 458.1,114.2 C457.7,116.4 457.5,118.4 457.4,120.5 C457.3,122.6 457.2,124.6 456.7,126.1 C455.8,128.2 454.2,129.4 452.5,129.6 C450.6,129.8 449.2,128.8 448.3,127.5 C447.0,125.8 446.4,123.8 446.2,121.9 C445.9,118.4 446.1,114.8 446.5,111.5 C446.8,109.0 447.0,106.6 447.6,104.5 C448.4,102.4 449.6,100.8 451.1,99.6 C452.6,98.6 454.2,98.3 456.0,98.2 Z" fill="#161218" />
<path d="M450.6,108.5 C451.5,105.5 453.5,103.8 456.8,102.8" fill="none" stroke="#9aa0b8" stroke-width="0.8" />
</g>
<rect x="620.50" y="69.20" width="19.00" height="65.00" fill="#ff9b9b" stroke="#1c1c1c" stroke-width="1.2" />
<rect x="644.70" y="48.14" width="19.90" height="86.06" fill="#8a8aff" stroke="#1c1c1c" stroke-width="1.2" />
<line x1="616.20" y1="19.60" x2="616.20" y2="134.70" stroke="#262626" stroke-width="1.1" />
<line x1="608.30" y1="134.20" x2="668.80" y2="134.20" stroke="#262626" stroke-width="1.1" />
<line x1="608.60" y1="134.20" x2="616.20" y2="134.20" stroke="#262626" stroke-width="1.1" />
<text x="606.60" y="137.49" font-size="9.2" text-anchor="end" textLength="5.4" lengthAdjust="spacingAndGlyphs">0</text>
<line x1="608.60" y1="111.25" x2="616.20" y2="111.25" stroke="#262626" stroke-width="1.1" />
<text x="606.60" y="114.54" font-size="9.2" text-anchor="end" textLength="5.4" lengthAdjust="spacingAndGlyphs">1</text>
<line x1="608.60" y1="88.30" x2="616.20" y2="88.30" stroke="#262626" stroke-width="1.1" />
<text x="606.60" y="91.59" font-size="9.2" text-anchor="end" textLength="5.4" lengthAdjust="spacingAndGlyphs">2</text>
<line x1="608.60" y1="65.35" x2="616.20" y2="65.35" stroke="#262626" stroke-width="1.1" />
<text x="606.60" y="68.64" font-size="9.2" text-anchor="end" textLength="5.4" lengthAdjust="spacingAndGlyphs">3</text>
<line x1="608.60" y1="42.40" x2="616.20" y2="42.40" stroke="#262626" stroke-width="1.1" />
<text x="606.60" y="45.69" font-size="9.2" text-anchor="end" textLength="5.4" lengthAdjust="spacingAndGlyphs">4</text>
<line x1="608.60" y1="19.45" x2="616.20" y2="19.45" stroke="#262626" stroke-width="1.1" />
<text x="606.60" y="22.74" font-size="9.2" text-anchor="end" textLength="5.4" lengthAdjust="spacingAndGlyphs">5</text>
<line x1="630.00" y1="66.30" x2="630.00" y2="71.60" stroke="#262626" stroke-width="1.0" />
<line x1="625.00" y1="66.30" x2="635.00" y2="66.30" stroke="#262626" stroke-width="1.0" />
<line x1="625.00" y1="71.60" x2="635.00" y2="71.60" stroke="#262626" stroke-width="1.0" />
<line x1="654.50" y1="43.30" x2="654.50" y2="53.20" stroke="#262626" stroke-width="1.0" />
<line x1="649.50" y1="43.30" x2="659.50" y2="43.30" stroke="#262626" stroke-width="1.0" />
<line x1="649.50" y1="53.20" x2="659.50" y2="53.20" stroke="#262626" stroke-width="1.0" />
<circle cx="630.00" cy="52.70" r="2.0" fill="#c4620f"/>
<circle cx="630.00" cy="60.20" r="2.0" fill="#c4620f"/>
<circle cx="621.60" cy="66.00" r="2.0" fill="#c4620f"/>
<circle cx="630.00" cy="65.40" r="2.0" fill="#c4620f"/>
<circle cx="638.20" cy="68.10" r="2.0" fill="#c4620f"/>
<circle cx="621.60" cy="70.70" r="2.0" fill="#c4620f"/>
<circle cx="630.00" cy="69.80" r="2.0" fill="#c4620f"/>
<circle cx="638.20" cy="73.30" r="2.0" fill="#c4620f"/>
<circle cx="634.20" cy="78.50" r="2.0" fill="#c4620f"/>
<circle cx="626.00" cy="81.70" r="2.0" fill="#c4620f"/>
<circle cx="654.50" cy="20.90" r="2.0" fill="#00007f"/>
<circle cx="662.70" cy="30.00" r="2.0" fill="#00007f"/>
<circle cx="654.50" cy="33.70" r="2.0" fill="#00007f"/>
<circle cx="654.50" cy="43.60" r="2.0" fill="#00007f"/>
<circle cx="654.50" cy="51.00" r="2.0" fill="#00007f"/>
<circle cx="646.10" cy="56.70" r="2.0" fill="#00007f"/>
<circle cx="662.70" cy="57.60" r="2.0" fill="#00007f"/>
<circle cx="654.50" cy="60.70" r="2.0" fill="#00007f"/>
<circle cx="662.70" cy="62.00" r="2.0" fill="#00007f"/>
<circle cx="646.10" cy="64.20" r="2.0" fill="#00007f"/>
<line x1="630.10" y1="134.20" x2="630.10" y2="139.60" stroke="#262626" stroke-width="1.1" />
<line x1="654.60" y1="134.20" x2="654.60" y2="139.60" stroke="#262626" stroke-width="1.1" />
<text x="632.50" y="150.50" font-size="12" text-anchor="end" transform="rotate(-45 632.50 150.50)">WT</text>
<text x="657.20" y="148.50" font-size="12" text-anchor="end" transform="rotate(-45 657.20 148.50)">SK930</text>
<text x="641.40" y="9.18" font-size="7.2" text-anchor="middle" textLength="33.5" lengthAdjust="spacingAndGlyphs" style="stroke:none"><tspan font-style="italic">P</tspan> = 0.0015</text>
<path d="M629.5,15.7 V11.3 H654.8 V15.7" fill="none" stroke="#111" stroke-width="1.1" />
<g transform="rotate(-90 592.60 74.20)">
<text x="537.60" y="74.20" font-size="9.6" textLength="100.44" lengthAdjust="spacingAndGlyphs">Weight/length (mg mm</text>
<text x="638.04" y="70.55" font-size="6.72" textLength="6.23" lengthAdjust="spacingAndGlyphs" style="stroke:none">-1</text>
<text x="644.27" y="74.20" font-size="9.6" textLength="3.33" lengthAdjust="spacingAndGlyphs">)</text>
</g>
<text x="10.30" y="196.70" font-size="15" font-weight="bold" fill="#000">e</text>
<text x="48.20" y="220.10" font-size="14.5" textLength="21.8" lengthAdjust="spacingAndGlyphs">WT</text>
<text x="160.60" y="220.10" font-size="14.5" textLength="41.1" lengthAdjust="spacingAndGlyphs">SK930</text>
<clipPath id="h1"><rect x="0" y="223.5" width="119.0" height="89.10000000000002"/></clipPath>
<g clip-path="url(#h1)">
<rect x="0.00" y="223.50" width="119.00" height="89.10" fill="#8a58aa" />
<rect x="0" y="223.5" width="119.0" height="89.1" fill="#fff" filter="url(#txl5)"/>
<rect x="0" y="223.5" width="119.0" height="89.1" fill="#fff" filter="url(#txd5)"/>
<line x1="30.00" y1="245.00" x2="40.00" y2="262.00" stroke="#c9b2d9" stroke-width="2.0" opacity="0.65" stroke-linecap="round"/>
<line x1="36.00" y1="236.00" x2="48.00" y2="250.00" stroke="#c9b2d9" stroke-width="2.0" opacity="0.65" stroke-linecap="round"/>
<line x1="52.00" y1="236.00" x2="60.00" y2="250.00" stroke="#c9b2d9" stroke-width="2.0" opacity="0.65" stroke-linecap="round"/>
<line x1="40.00" y1="268.00" x2="52.00" y2="282.00" stroke="#c9b2d9" stroke-width="2.0" opacity="0.65" stroke-linecap="round"/>
<line x1="30.00" y1="276.00" x2="40.00" y2="288.00" stroke="#c9b2d9" stroke-width="2.0" opacity="0.65" stroke-linecap="round"/>
<line x1="56.00" y1="262.00" x2="66.00" y2="272.00" stroke="#c9b2d9" stroke-width="2.0" opacity="0.65" stroke-linecap="round"/>
<line x1="78.00" y1="232.00" x2="92.00" y2="244.00" stroke="#c9b2d9" stroke-width="2.0" opacity="0.65" stroke-linecap="round"/>
<line x1="84.00" y1="248.00" x2="96.00" y2="258.00" stroke="#c9b2d9" stroke-width="2.0" opacity="0.65" stroke-linecap="round"/>
<line x1="78.00" y1="262.00" x2="92.00" y2="272.00" stroke="#c9b2d9" stroke-width="2.0" opacity="0.65" stroke-linecap="round"/>
<line x1="6.00" y1="262.00" x2="16.00" y2="276.00" stroke="#c9b2d9" stroke-width="2.0" opacity="0.65" stroke-linecap="round"/>
<line x1="4.00" y1="284.00" x2="16.00" y2="294.00" stroke="#c9b2d9" stroke-width="2.0" opacity="0.65" stroke-linecap="round"/>
<line x1="26.00" y1="302.00" x2="30.00" y2="312.00" stroke="#c9b2d9" stroke-width="2.0" opacity="0.65" stroke-linecap="round"/>
<line x1="42.00" y1="302.00" x2="46.00" y2="312.00" stroke="#c9b2d9" stroke-width="2.0" opacity="0.65" stroke-linecap="round"/>
<line x1="58.00" y1="300.00" x2="60.00" y2="312.00" stroke="#c9b2d9" stroke-width="2.0" opacity="0.65" stroke-linecap="round"/>
<line x1="6.00" y1="230.00" x2="14.00" y2="240.00" stroke="#c9b2d9" stroke-width="2.0" opacity="0.65" stroke-linecap="round"/>
<line x1="92.00" y1="236.00" x2="100.00" y2="244.00" stroke="#c9b2d9" stroke-width="2.0" opacity="0.65" stroke-linecap="round"/>
<path d="M46.0,244.0 C46.7,245.7 48.7,250.7 50.0,254.0 C51.3,257.3 52.0,260.3 54.0,264.0 C56.0,267.7 60.7,274.0 62.0,276.0" fill="none" stroke="#cdb7dc" stroke-width="2.2" stroke-linecap="round" stroke-linejoin="round"/>
<path d="M18.0,221.0 C25.0,221.0 54.7,220.4 60.0,221.0 C65.3,221.6 53.7,223.8 50.0,224.5 C46.3,225.2 41.3,225.1 38.0,225.5 C34.7,225.9 32.2,226.4 30.0,227.0 C27.8,227.6 25.8,228.7 25.0,229.0 Z" fill="#ebe8ee" />
<path d="M20.0,221.0 C21.5,220.2 27.2,219.8 28.0,221.0 C28.8,222.2 26.0,225.7 25.0,228.0 C24.0,230.3 23.0,233.0 22.0,235.0 C21.0,237.0 20.3,238.3 19.0,240.0 C17.7,241.7 16.2,243.7 14.0,245.0 C11.8,246.3 8.8,247.4 6.0,248.0 C3.2,248.6 -1.5,249.0 -3.0,248.5 C-4.5,248.0 -4.5,245.8 -3.0,245.0 C-1.5,244.2 3.5,244.8 6.0,244.0 C8.5,243.2 10.3,241.8 12.0,240.0 C13.7,238.2 14.8,235.3 16.0,233.0 C17.2,230.7 18.3,228.0 19.0,226.0 C19.7,224.0 18.5,221.8 20.0,221.0 Z" fill="#5e2c8c" stroke="#5e2c8c" stroke-width="1.6" opacity="0.55"/>
<path d="M-3.0,244.5 C-1.2,242.8 5.2,244.4 8.0,244.0 C10.8,243.6 12.3,241.8 14.0,242.0 C15.7,242.2 16.8,243.5 18.0,245.0 C19.2,246.5 20.8,249.0 21.5,251.0 C22.2,253.0 23.1,256.5 22.0,257.0 C20.9,257.5 19.2,254.5 15.0,254.0 C10.8,253.5 0.0,255.6 -3.0,254.0 C-6.0,252.4 -4.8,246.2 -3.0,244.5 Z" fill="#5e2c8c" stroke="#5e2c8c" stroke-width="1.6" opacity="0.55"/>
<path d="M18.5,240.0 C19.0,242.3 20.5,249.4 21.5,254.0 C22.5,258.6 23.4,263.3 24.3,267.4 C25.2,271.5 26.0,275.3 26.8,278.8 C27.6,282.3 28.2,286.2 29.2,288.5 C30.2,290.8 32.4,291.8 33.0,292.5" fill="none" stroke="#5e2c8c" stroke-width="5.6" stroke-linecap="round" stroke-linejoin="round" opacity="0.55"/>
<path d="M30.0,292.0 C32.3,292.4 39.8,293.8 44.0,294.5 C48.2,295.2 52.0,295.8 55.2,296.0 C58.4,296.2 60.2,296.0 63.0,295.5 C65.8,295.0 69.2,294.1 72.0,293.0 C74.8,291.9 78.7,289.7 80.0,289.0" fill="none" stroke="#5e2c8c" stroke-width="5.2" stroke-linecap="round" stroke-linejoin="round" opacity="0.55"/>
<path d="M30.0,292.0 C28.5,293.1 23.8,295.9 21.0,298.3 C18.2,300.7 15.3,303.4 13.0,306.4 C10.7,309.3 8.0,314.4 7.0,316.0" fill="none" stroke="#5e2c8c" stroke-width="5.800000000000001" stroke-linecap="round" stroke-linejoin="round" opacity="0.55"/>
<path d="M68.6,221.0 C68.9,223.6 69.4,231.4 70.5,236.6 C71.6,241.8 73.6,247.3 75.0,252.0 C76.4,256.7 78.0,261.2 79.0,265.0 C80.0,268.8 80.5,271.3 81.0,275.0 C81.5,278.7 81.8,285.0 82.0,287.0" fill="none" stroke="#5e2c8c" stroke-width="3.0" stroke-linecap="round" stroke-linejoin="round" opacity="0.55"/>
<path d="M20.0,221.0 C21.5,220.2 27.2,219.8 28.0,221.0 C28.8,222.2 26.0,225.7 25.0,228.0 C24.0,230.3 23.0,233.0 22.0,235.0 C21.0,237.0 20.3,238.3 19.0,240.0 C17.7,241.7 16.2,243.7 14.0,245.0 C11.8,246.3 8.8,247.4 6.0,248.0 C3.2,248.6 -1.5,249.0 -3.0,248.5 C-4.5,248.0 -4.5,245.8 -3.0,245.0 C-1.5,244.2 3.5,244.8 6.0,244.0 C8.5,243.2 10.3,241.8 12.0,240.0 C13.7,238.2 14.8,235.3 16.0,233.0 C17.2,230.7 18.3,228.0 19.0,226.0 C19.7,224.0 18.5,221.8 20.0,221.0 Z" fill="#ebe8ee" />
<path d="M-3.0,244.5 C-1.2,242.8 5.2,244.4 8.0,244.0 C10.8,243.6 12.3,241.8 14.0,242.0 C15.7,242.2 16.8,243.5 18.0,245.0 C19.2,246.5 20.8,249.0 21.5,251.0 C22.2,253.0 23.1,256.5 22.0,257.0 C20.9,257.5 19.2,254.5 15.0,254.0 C10.8,253.5 0.0,255.6 -3.0,254.0 C-6.0,252.4 -4.8,246.2 -3.0,244.5 Z" fill="#ebe8ee" />
<path d="M18.5,240.0 C19.0,242.3 20.5,249.4 21.5,254.0 C22.5,258.6 23.4,263.3 24.3,267.4 C25.2,271.5 26.0,275.3 26.8,278.8 C27.6,282.3 28.2,286.2 29.2,288.5 C30.2,290.8 32.4,291.8 33.0,292.5" fill="none" stroke="#ebe8ee" stroke-width="4.0" stroke-linecap="round" stroke-linejoin="round"/>
<path d="M30.0,292.0 C32.3,292.4 39.8,293.8 44.0,294.5 C48.2,295.2 52.0,295.8 55.2,296.0 C58.4,296.2 60.2,296.0 63.0,295.5 C65.8,295.0 69.2,294.1 72.0,293.0 C74.8,291.9 78.7,289.7 80.0,289.0" fill="none" stroke="#ebe8ee" stroke-width="3.6" stroke-linecap="round" stroke-linejoin="round"/>
<path d="M30.0,292.0 C28.5,293.1 23.8,295.9 21.0,298.3 C18.2,300.7 15.3,303.4 13.0,306.4 C10.7,309.3 8.0,314.4 7.0,316.0" fill="none" stroke="#ebe8ee" stroke-width="4.2" stroke-linecap="round" stroke-linejoin="round"/>
<path d="M68.6,221.0 C68.9,223.6 69.4,231.4 70.5,236.6 C71.6,241.8 73.6,247.3 75.0,252.0 C76.4,256.7 78.0,261.2 79.0,265.0 C80.0,268.8 80.5,271.3 81.0,275.0 C81.5,278.7 81.8,285.0 82.0,287.0" fill="none" stroke="#ebe8ee" stroke-width="1.4" stroke-linecap="round" stroke-linejoin="round"/>
<path d="M103.8,221.0 C103.7,224.7 103.8,236.2 103.0,243.1 C102.2,250.0 100.8,257.2 99.0,262.6 C97.2,268.0 95.5,271.0 92.5,275.6 C89.5,280.2 84.9,285.1 81.1,290.2 C77.3,295.3 72.7,302.1 69.7,306.4 C66.7,310.7 64.1,314.4 63.0,316.0 L84.0,316.0 C84.9,314.7 87.0,311.5 89.2,308.0 C91.4,304.5 94.3,299.9 97.3,295.0 C100.3,290.1 104.7,284.2 107.1,278.8 C109.5,273.4 110.7,269.4 111.9,262.6 C113.1,255.8 114.1,245.1 114.4,238.2 C114.7,231.3 113.7,223.9 113.6,221.0 Z" fill="#a88cba" />
<path d="M103.8,221.0 C103.7,224.7 103.8,236.2 103.0,243.1 C102.2,250.0 100.8,257.2 99.0,262.6 C97.2,268.0 95.5,271.0 92.5,275.6 C89.5,280.2 84.9,285.1 81.1,290.2 C77.3,295.3 72.7,302.1 69.7,306.4 C66.7,310.7 64.1,314.4 63.0,316.0 L72.5,316.0 C73.5,314.5 75.9,311.1 78.6,307.1 C81.2,303.2 85.0,297.4 88.5,292.4 C91.9,287.4 96.4,282.0 99.1,277.1 C101.9,272.1 103.4,268.6 104.9,262.6 C106.4,256.6 107.6,247.8 108.2,240.9 C108.7,233.9 108.2,224.3 108.3,221.0 Z" fill="#c682cf" />
<path d="M113.6,221.0 C113.7,223.9 114.7,231.3 114.4,238.2 C114.1,245.1 113.1,255.8 111.9,262.6 C110.7,269.4 109.5,273.4 107.1,278.8 C104.7,284.2 100.3,290.1 97.3,295.0 C94.3,299.9 91.4,304.5 89.2,308.0 C87.0,311.5 84.9,314.7 84.0,316.0 L125,316 L125,221 Z" fill="#e1e0e3" />
<path d="M103.8,221.0 C103.7,224.7 103.8,236.2 103.0,243.1 C102.2,250.0 100.8,257.2 99.0,262.6 C97.2,268.0 95.5,271.0 92.5,275.6 C89.5,280.2 84.9,285.1 81.1,290.2 C77.3,295.3 72.7,302.1 69.7,306.4 C66.7,310.7 64.1,314.4 63.0,316.0" fill="none" stroke="#5e2c8c" stroke-width="4.0" stroke-linecap="round" stroke-linejoin="round" opacity="0.55"/>
<path d="M103.8,221.0 C103.7,224.7 103.8,236.2 103.0,243.1 C102.2,250.0 100.8,257.2 99.0,262.6 C97.2,268.0 95.5,271.0 92.5,275.6 C89.5,280.2 84.9,285.1 81.1,290.2 C77.3,295.3 72.7,302.1 69.7,306.4 C66.7,310.7 64.1,314.4 63.0,316.0" fill="none" stroke="#ebe8ee" stroke-width="2.4" stroke-linecap="round" stroke-linejoin="round"/>
<line x1="5.30" y1="308.20" x2="31.50" y2="308.20" stroke="#fff200" stroke-width="2.0" />
</g>
<clipPath id="h2"><rect x="124.2" y="223.3" width="118.6" height="89.2"/></clipPath>
<g clip-path="url(#h2)">
<rect x="124.20" y="223.30" width="118.60" height="89.20" fill="#8a58aa" />
<rect x="124.2" y="223.3" width="118.6" height="89.2" fill="#fff" filter="url(#txl7)"/>
<rect x="124.2" y="223.3" width="118.6" height="89.2" fill="#fff" filter="url(#txd7)"/>
<path d="M190.5,241.0 C191.4,239.7 193.6,240.2 194.5,242.0 C195.4,243.8 195.7,248.7 196.0,252.0 C196.3,255.3 196.1,258.7 196.5,262.0 C196.9,265.3 197.8,268.8 198.5,272.0 C199.2,275.2 199.1,278.4 201.0,281.0 C202.9,283.6 205.5,286.0 210.0,287.5 C214.5,289.0 222.0,289.5 228.0,290.0 C234.0,290.5 243.0,289.2 246.0,290.5 C249.0,291.8 250.3,296.8 246.0,298.0 C241.7,299.2 228.3,298.6 220.0,298.0 C211.7,297.4 203.0,296.0 196.0,294.5 C189.0,293.0 182.3,290.6 178.0,289.0 C173.7,287.4 169.3,286.2 170.0,285.0 C170.7,283.8 179.3,283.8 182.0,282.0 C184.7,280.2 185.0,277.3 186.0,274.0 C187.0,270.7 187.5,266.0 188.0,262.0 C188.5,258.0 188.6,253.5 189.0,250.0 C189.4,246.5 189.6,242.3 190.5,241.0 Z" fill="#c9aed2" />
<path d="M161.8,221 L169.6,221 C169,230 168.5,236 166,242 C163,248 159,254 155.3,261 C154.5,256 156,251 158,247 C154,250 152,253 151,254 C153,250 157,246 160,244 C162,238 163,230 161.8,221 Z" fill="#ebe8ee" />
<path d="M210.5,221.0 L230.0,221.0 L230.8,228.0 L232.2,235.0 L235.0,240.0 L240.0,242.6 L246.0,243.0 L246.0,262.0 L238.0,261.2 L231.0,261.6 L227.0,263.5 L225.2,268.0 L225.2,274.0 L226.4,279.0 L231.0,281.0 L246.0,281.2 L246.0,288.0 L226.0,288.0 L219.0,286.6 L218.2,280.0 L219.2,270.0 L219.2,260.0 L217.8,250.0 L215.6,240.0 L213.0,231.0 Z" fill="#ebe8ee" />
<circle cx="225.50" cy="247.00" r="0.9" fill="#b0308a"/>
<circle cx="227.50" cy="249.50" r="0.9" fill="#b0308a"/>
<circle cx="226.00" cy="251.50" r="0.9" fill="#b0308a"/>
<circle cx="229.00" cy="252.00" r="0.9" fill="#b0308a"/>
<circle cx="224.50" cy="250.00" r="0.9" fill="#b0308a"/>
<path d="M122.0,244.0 C123.3,245.4 127.0,249.5 129.8,252.5 C132.6,255.5 135.9,258.8 139.0,261.8 C142.1,264.8 144.9,268.0 148.2,270.6 C151.5,273.2 155.0,275.4 158.6,277.6 C162.2,279.8 166.1,281.9 170.0,284.0 C173.9,286.1 177.0,288.4 182.0,290.5 C187.0,292.6 193.7,295.4 200.0,296.6 C206.3,297.9 212.3,297.7 220.0,298.0 C227.7,298.3 241.7,298.3 246.0,298.4 L246,316 L186.0,315.0 C185.0,314.3 182.3,312.3 180.0,311.0 C177.7,309.7 174.6,308.4 172.0,307.1 C169.4,305.8 167.2,304.9 164.4,303.3 C161.6,301.7 158.2,299.6 155.0,297.7 C151.8,295.8 148.7,293.7 145.5,292.0 C142.3,290.3 140.0,289.5 136.1,287.3 C132.2,285.1 124.3,280.4 122.0,279.0 Z" fill="#c682cf" />
<path d="M122.0,244.0 C123.3,245.4 127.0,249.5 129.8,252.5 C132.6,255.5 135.9,258.8 139.0,261.8 C142.1,264.8 144.9,268.0 148.2,270.6 C151.5,273.2 155.0,275.4 158.6,277.6 C162.2,279.8 166.1,281.9 170.0,284.0 C173.9,286.1 180.0,289.4 182.0,290.5" fill="none" stroke="#eadcef" stroke-width="1.2" stroke-linecap="round" stroke-linejoin="round"/>
<path d="M122.0,279.0 C124.3,280.4 132.2,285.1 136.1,287.3 C140.0,289.5 142.3,290.3 145.5,292.0 C148.7,293.7 151.8,295.8 155.0,297.7 C158.2,299.6 161.6,301.7 164.4,303.3 C167.2,304.9 169.4,305.8 172.0,307.1 C174.6,308.4 177.7,309.7 180.0,311.0 C182.3,312.3 185.0,314.3 186.0,315.0 L122,316 Z" fill="#b29cc2" />
<path d="M122.0,286.5 C123.6,287.3 128.3,289.2 131.4,291.1 C134.5,293.0 137.7,295.5 140.8,297.7 C143.9,299.9 147.4,302.1 150.2,304.3 C153.0,306.5 156.2,308.9 157.8,310.8 C159.4,312.8 159.6,315.1 160.0,316.0 L122,316 Z" fill="#e6e2ea" />
<line x1="130.70" y1="308.20" x2="156.60" y2="308.20" stroke="#fff200" stroke-width="2.0" />
</g>
<rect x="276.50" y="251.72" width="20.20" height="64.58" fill="#ff9b9b" stroke="#1c1c1c" stroke-width="1.2" />
<rect x="301.20" y="225.85" width="20.00" height="90.45" fill="#8a8aff" stroke="#1c1c1c" stroke-width="1.2" />
<line x1="272.30" y1="201.40" x2="272.30" y2="316.80" stroke="#262626" stroke-width="1.1" />
<line x1="264.60" y1="316.30" x2="325.80" y2="316.30" stroke="#262626" stroke-width="1.1" />
<line x1="265.20" y1="316.30" x2="272.30" y2="316.30" stroke="#262626" stroke-width="1.1" />
<text x="262.60" y="319.52" font-size="9.0" text-anchor="end" font-weight="bold" textLength="5.1" lengthAdjust="spacingAndGlyphs">0</text>
<line x1="265.20" y1="293.40" x2="272.30" y2="293.40" stroke="#262626" stroke-width="1.1" />
<text x="262.60" y="296.62" font-size="9.0" text-anchor="end" font-weight="bold" textLength="5.1" lengthAdjust="spacingAndGlyphs">2</text>
<line x1="265.20" y1="270.50" x2="272.30" y2="270.50" stroke="#262626" stroke-width="1.1" />
<text x="262.60" y="273.72" font-size="9.0" text-anchor="end" font-weight="bold" textLength="5.1" lengthAdjust="spacingAndGlyphs">4</text>
<line x1="265.20" y1="247.60" x2="272.30" y2="247.60" stroke="#262626" stroke-width="1.1" />
<text x="262.60" y="250.82" font-size="9.0" text-anchor="end" font-weight="bold" textLength="5.1" lengthAdjust="spacingAndGlyphs">6</text>
<line x1="265.20" y1="224.70" x2="272.30" y2="224.70" stroke="#262626" stroke-width="1.1" />
<text x="262.60" y="227.92" font-size="9.0" text-anchor="end" font-weight="bold" textLength="5.1" lengthAdjust="spacingAndGlyphs">8</text>
<line x1="265.20" y1="201.80" x2="272.30" y2="201.80" stroke="#262626" stroke-width="1.1" />
<text x="262.60" y="205.02" font-size="9.0" text-anchor="end" font-weight="bold" textLength="10.4" lengthAdjust="spacingAndGlyphs">10</text>
<line x1="286.60" y1="247.00" x2="286.60" y2="255.70" stroke="#262626" stroke-width="1.0" />
<line x1="281.60" y1="247.00" x2="291.60" y2="247.00" stroke="#262626" stroke-width="1.0" />
<line x1="281.60" y1="255.70" x2="291.60" y2="255.70" stroke="#262626" stroke-width="1.0" />
<line x1="311.20" y1="222.50" x2="311.20" y2="228.30" stroke="#262626" stroke-width="1.0" />
<line x1="306.20" y1="222.50" x2="316.20" y2="222.50" stroke="#262626" stroke-width="1.0" />
<line x1="306.20" y1="228.30" x2="316.20" y2="228.30" stroke="#262626" stroke-width="1.0" />
<circle cx="286.60" cy="221.10" r="2.0" fill="#c4620f"/>
<circle cx="286.60" cy="236.10" r="2.0" fill="#c4620f"/>
<circle cx="286.60" cy="243.80" r="2.0" fill="#c4620f"/>
<circle cx="278.40" cy="255.20" r="2.0" fill="#c4620f"/>
<circle cx="282.60" cy="255.20" r="2.0" fill="#c4620f"/>
<circle cx="286.60" cy="255.20" r="2.0" fill="#c4620f"/>
<circle cx="290.60" cy="255.20" r="2.0" fill="#c4620f"/>
<circle cx="295.00" cy="255.20" r="2.0" fill="#c4620f"/>
<circle cx="286.60" cy="264.80" r="2.0" fill="#c4620f"/>
<circle cx="286.60" cy="270.50" r="2.0" fill="#c4620f"/>
<circle cx="308.40" cy="209.40" r="2.0" fill="#00007f"/>
<circle cx="313.80" cy="212.90" r="2.0" fill="#00007f"/>
<circle cx="302.80" cy="221.10" r="2.0" fill="#00007f"/>
<circle cx="319.40" cy="221.10" r="2.0" fill="#00007f"/>
<circle cx="308.40" cy="224.30" r="2.0" fill="#00007f"/>
<circle cx="313.80" cy="224.30" r="2.0" fill="#00007f"/>
<circle cx="305.40" cy="232.10" r="2.0" fill="#00007f"/>
<circle cx="311.20" cy="232.10" r="2.0" fill="#00007f"/>
<circle cx="316.80" cy="232.10" r="2.0" fill="#00007f"/>
<circle cx="311.20" cy="243.80" r="2.0" fill="#00007f"/>
<line x1="286.30" y1="316.30" x2="286.30" y2="321.50" stroke="#262626" stroke-width="1.1" />
<line x1="311.20" y1="316.30" x2="311.20" y2="321.50" stroke="#262626" stroke-width="1.1" />
<text x="289.50" y="330.50" font-size="12" text-anchor="end" transform="rotate(-45 289.50 330.50)">WT</text>
<text x="315.20" y="330.50" font-size="12" text-anchor="end" transform="rotate(-45 315.20 330.50)">SK930</text>
<text x="295.30" y="198.38" font-size="7.2" text-anchor="middle" textLength="33.2" lengthAdjust="spacingAndGlyphs" style="stroke:none"><tspan font-style="italic">P</tspan> = 0.0003</text>
<path d="M286.2,206 V201.6 H310.7 V206" fill="none" stroke="#111" stroke-width="1.1" />
<text x="252.80" y="266.30" font-size="9.3" text-anchor="middle" textLength="75.2" lengthAdjust="spacingAndGlyphs" transform="rotate(-90 252.80 266.30)">histological score</text>
<text x="334.50" y="196.30" font-size="15" font-weight="bold" fill="#000">f</text>
<rect x="383.30" y="294.40" width="19.20" height="21.70" fill="#ff9b9b" stroke="#1c1c1c" stroke-width="1.2" />
<rect x="408.10" y="275.40" width="19.50" height="40.70" fill="#8a8aff" stroke="#1c1c1c" stroke-width="1.2" />
<line x1="378.90" y1="201.50" x2="378.90" y2="316.60" stroke="#262626" stroke-width="1.1" />
<line x1="371.40" y1="316.10" x2="432.50" y2="316.10" stroke="#262626" stroke-width="1.1" />
<line x1="371.60" y1="316.10" x2="378.90" y2="316.10" stroke="#262626" stroke-width="1.1" />
<text x="368.90" y="319.54" font-size="9.6" text-anchor="end">0</text>
<line x1="371.60" y1="278.10" x2="378.90" y2="278.10" stroke="#262626" stroke-width="1.1" />
<text x="368.90" y="281.54" font-size="9.6" text-anchor="end" textLength="21.0" lengthAdjust="spacingAndGlyphs">1000</text>
<line x1="371.60" y1="240.10" x2="378.90" y2="240.10" stroke="#262626" stroke-width="1.1" />
<text x="368.90" y="243.54" font-size="9.6" text-anchor="end" textLength="21.0" lengthAdjust="spacingAndGlyphs">2000</text>
<line x1="371.60" y1="202.10" x2="378.90" y2="202.10" stroke="#262626" stroke-width="1.1" />
<text x="368.90" y="205.54" font-size="9.6" text-anchor="end" textLength="21.0" lengthAdjust="spacingAndGlyphs">3000</text>
<line x1="393.20" y1="288.30" x2="393.20" y2="298.70" stroke="#262626" stroke-width="1.0" />
<line x1="388.20" y1="288.30" x2="398.20" y2="288.30" stroke="#262626" stroke-width="1.0" />
<line x1="388.20" y1="298.70" x2="398.20" y2="298.70" stroke="#262626" stroke-width="1.0" />
<line x1="417.70" y1="267.30" x2="417.70" y2="282.30" stroke="#262626" stroke-width="1.0" />
<line x1="412.70" y1="267.30" x2="422.70" y2="267.30" stroke="#262626" stroke-width="1.0" />
<line x1="412.70" y1="282.30" x2="422.70" y2="282.30" stroke="#262626" stroke-width="1.0" />
<circle cx="393.20" cy="252.00" r="2.0" fill="#c4620f"/>
<circle cx="393.20" cy="259.50" r="2.0" fill="#c4620f"/>
<circle cx="393.20" cy="280.90" r="2.0" fill="#c4620f"/>
<circle cx="385.00" cy="294.90" r="2.0" fill="#c4620f"/>
<circle cx="396.20" cy="292.30" r="2.0" fill="#c4620f"/>
<circle cx="401.10" cy="295.80" r="2.0" fill="#c4620f"/>
<circle cx="390.60" cy="298.40" r="2.0" fill="#c4620f"/>
<circle cx="396.20" cy="298.70" r="2.0" fill="#c4620f"/>
<circle cx="390.60" cy="301.90" r="2.0" fill="#c4620f"/>
<circle cx="396.20" cy="307.10" r="2.0" fill="#c4620f"/>
<circle cx="390.60" cy="309.20" r="2.0" fill="#c4620f"/>
<circle cx="390.60" cy="315.80" r="2.0" fill="#c4620f"/>
<circle cx="396.20" cy="315.80" r="2.0" fill="#c4620f"/>
<circle cx="417.70" cy="219.30" r="2.0" fill="#00007f"/>
<circle cx="417.70" cy="244.50" r="2.0" fill="#00007f"/>
<circle cx="413.30" cy="254.90" r="2.0" fill="#00007f"/>
<circle cx="421.70" cy="254.20" r="2.0" fill="#00007f"/>
<circle cx="417.70" cy="265.40" r="2.0" fill="#00007f"/>
<circle cx="417.70" cy="269.40" r="2.0" fill="#00007f"/>
<circle cx="417.70" cy="279.90" r="2.0" fill="#00007f"/>
<circle cx="417.70" cy="285.10" r="2.0" fill="#00007f"/>
<circle cx="425.50" cy="285.10" r="2.0" fill="#00007f"/>
<circle cx="417.70" cy="295.40" r="2.0" fill="#00007f"/>
<circle cx="409.80" cy="308.00" r="2.0" fill="#00007f"/>
<circle cx="417.70" cy="306.80" r="2.0" fill="#00007f"/>
<circle cx="425.50" cy="306.80" r="2.0" fill="#00007f"/>
<line x1="392.90" y1="316.10" x2="392.90" y2="321.40" stroke="#262626" stroke-width="1.1" />
<line x1="417.70" y1="316.10" x2="417.70" y2="321.40" stroke="#262626" stroke-width="1.1" />
<text x="396.50" y="331.30" font-size="12" text-anchor="end" transform="rotate(-45 396.50 331.30)">WT</text>
<text x="422.00" y="331.30" font-size="12" text-anchor="end" transform="rotate(-45 422.00 331.30)">SK930</text>
<text x="404.50" y="201.96" font-size="8" text-anchor="middle" textLength="29.7" lengthAdjust="spacingAndGlyphs" style="stroke:none"><tspan font-style="italic">P</tspan> = 0.050</text>
<path d="M392,210 V206.1 H417.7 V210" fill="none" stroke="#111" stroke-width="1.1" />
<g transform="rotate(-90 340.60 265.60)">
<text x="300.60" y="265.60" font-size="10" textLength="73.91" lengthAdjust="spacingAndGlyphs">Lipocalin-2 pg ml</text>
<text x="374.51" y="261.80" font-size="7.0" textLength="6.09" lengthAdjust="spacingAndGlyphs" style="stroke:none">-1</text>
</g>
<text x="447.00" y="196.00" font-size="14.7" font-weight="bold" fill="#000">g</text>
<text x="515.40" y="206.80" font-size="14.5" textLength="21.0" lengthAdjust="spacingAndGlyphs">WT</text>
<text x="613.80" y="206.80" font-size="14.5" textLength="41.1" lengthAdjust="spacingAndGlyphs">SK930</text>
<rect x="473.20" y="217.00" width="99.80" height="99.20" fill="none" stroke="#555" stroke-width="0.9" />
<g fill="#555" opacity="0.7"><rect x="501.2" y="265.6" width="0.8" height="0.8"/><rect x="519.0" y="259.4" width="0.8" height="0.8"/><rect x="500.4" y="262.5" width="0.8" height="0.8"/><rect x="514.8" y="270.7" width="0.8" height="0.8"/><rect x="501.3" y="253.9" width="0.8" height="0.8"/><rect x="516.6" y="266.3" width="0.8" height="0.8"/><rect x="523.3" y="269.9" width="0.8" height="0.8"/><rect x="510.2" y="261.1" width="0.8" height="0.8"/><rect x="531.6" y="261.0" width="0.8" height="0.8"/><rect x="504.7" y="255.0" width="0.8" height="0.8"/><rect x="511.8" y="264.0" width="0.8" height="0.8"/><rect x="508.2" y="262.6" width="0.8" height="0.8"/><rect x="513.2" y="267.8" width="0.8" height="0.8"/><rect x="519.8" y="264.5" width="0.8" height="0.8"/><rect x="496.7" y="267.9" width="0.8" height="0.8"/><rect x="499.6" y="261.8" width="0.8" height="0.8"/><rect x="499.2" y="263.0" width="0.8" height="0.8"/><rect x="504.8" y="264.5" width="0.8" height="0.8"/><rect x="537.4" y="262.7" width="0.8" height="0.8"/><rect x="517.7" y="253.7" width="0.8" height="0.8"/><rect x="508.7" y="267.6" width="0.8" height="0.8"/><rect x="510.3" y="265.6" width="0.8" height="0.8"/><rect x="511.8" y="256.0" width="0.8" height="0.8"/><rect x="515.5" y="257.3" width="0.8" height="0.8"/><rect x="526.0" y="259.5" width="0.8" height="0.8"/><rect x="516.5" y="263.0" width="0.8" height="0.8"/><rect x="518.6" y="258.8" width="0.8" height="0.8"/><rect x="519.0" y="262.1" width="0.8" height="0.8"/><rect x="521.1" y="267.4" width="0.8" height="0.8"/><rect x="512.1" y="257.5" width="0.8" height="0.8"/><rect x="517.1" y="266.3" width="0.8" height="0.8"/><rect x="524.1" y="260.4" width="0.8" height="0.8"/><rect x="515.4" y="266.6" width="0.8" height="0.8"/><rect x="513.3" y="264.5" width="0.8" height="0.8"/><rect x="512.5" y="258.8" width="0.8" height="0.8"/><rect x="502.9" y="260.2" width="0.8" height="0.8"/><rect x="515.7" y="273.6" width="0.8" height="0.8"/><rect x="518.8" y="270.4" width="0.8" height="0.8"/><rect x="517.2" y="267.9" width="0.8" height="0.8"/><rect x="512.5" y="268.4" width="0.8" height="0.8"/><rect x="525.2" y="260.7" width="0.8" height="0.8"/><rect x="505.4" y="276.7" width="0.8" height="0.8"/><rect x="513.0" y="269.8" width="0.8" height="0.8"/><rect x="518.0" y="255.0" width="0.8" height="0.8"/><rect x="530.5" y="275.4" width="0.8" height="0.8"/><rect x="512.4" y="268.3" width="0.8" height="0.8"/><rect x="512.0" y="256.8" width="0.8" height="0.8"/><rect x="510.1" y="265.6" width="0.8" height="0.8"/><rect x="519.9" y="268.0" width="0.8" height="0.8"/><rect x="511.5" y="272.5" width="0.8" height="0.8"/><rect x="504.9" y="268.6" width="0.8" height="0.8"/><rect x="519.9" y="261.0" width="0.8" height="0.8"/><rect x="496.7" y="256.7" width="0.8" height="0.8"/><rect x="512.9" y="266.7" width="0.8" height="0.8"/><rect x="523.4" y="256.0" width="0.8" height="0.8"/><rect x="511.0" y="267.5" width="0.8" height="0.8"/><rect x="509.7" y="246.4" width="0.8" height="0.8"/><rect x="517.5" y="279.2" width="0.8" height="0.8"/><rect x="519.0" y="256.6" width="0.8" height="0.8"/><rect x="507.7" y="264.6" width="0.8" height="0.8"/><rect x="530.9" y="267.3" width="0.8" height="0.8"/><rect x="511.9" y="273.9" width="0.8" height="0.8"/><rect x="510.3" y="276.0" width="0.8" height="0.8"/><rect x="505.5" y="259.7" width="0.8" height="0.8"/><rect x="516.8" y="273.0" width="0.8" height="0.8"/><rect x="516.2" y="265.1" width="0.8" height="0.8"/><rect x="496.4" y="258.0" width="0.8" height="0.8"/><rect x="506.1" y="259.3" width="0.8" height="0.8"/><rect x="515.7" y="260.7" width="0.8" height="0.8"/><rect x="517.3" y="263.6" width="0.8" height="0.8"/><rect x="508.3" y="263.8" width="0.8" height="0.8"/><rect x="514.4" y="269.0" width="0.8" height="0.8"/><rect x="507.2" y="261.4" width="0.8" height="0.8"/><rect x="500.1" y="274.2" width="0.8" height="0.8"/><rect x="522.6" y="261.7" width="0.8" height="0.8"/><rect x="507.2" y="254.3" width="0.8" height="0.8"/><rect x="512.4" y="264.4" width="0.8" height="0.8"/><rect x="528.5" y="264.7" width="0.8" height="0.8"/><rect x="504.8" y="245.9" width="0.8" height="0.8"/><rect x="522.3" y="264.3" width="0.8" height="0.8"/><rect x="498.1" y="264.3" width="0.8" height="0.8"/><rect x="498.1" y="287.4" width="0.8" height="0.8"/><rect x="520.0" y="267.0" width="0.8" height="0.8"/><rect x="509.6" y="248.0" width="0.8" height="0.8"/><rect x="510.0" y="252.1" width="0.8" height="0.8"/><rect x="515.8" y="248.0" width="0.8" height="0.8"/><rect x="503.7" y="271.5" width="0.8" height="0.8"/><rect x="524.2" y="254.7" width="0.8" height="0.8"/><rect x="498.7" y="269.2" width="0.8" height="0.8"/><rect x="517.8" y="256.1" width="0.8" height="0.8"/><rect x="505.4" y="258.1" width="0.8" height="0.8"/><rect x="501.5" y="258.2" width="0.8" height="0.8"/><rect x="521.0" y="267.8" width="0.8" height="0.8"/><rect x="527.5" y="262.4" width="0.8" height="0.8"/><rect x="509.9" y="256.1" width="0.8" height="0.8"/><rect x="510.0" y="253.8" width="0.8" height="0.8"/><rect x="496.8" y="267.9" width="0.8" height="0.8"/><rect x="522.5" y="268.9" width="0.8" height="0.8"/><rect x="521.7" y="264.8" width="0.8" height="0.8"/><rect x="505.3" y="263.6" width="0.8" height="0.8"/><rect x="508.0" y="255.2" width="0.8" height="0.8"/><rect x="497.5" y="252.6" width="0.8" height="0.8"/><rect x="511.0" y="264.1" width="0.8" height="0.8"/><rect x="507.2" y="273.0" width="0.8" height="0.8"/><rect x="512.4" y="267.1" width="0.8" height="0.8"/><rect x="520.7" y="257.3" width="0.8" height="0.8"/><rect x="495.2" y="268.3" width="0.8" height="0.8"/><rect x="505.5" y="272.2" width="0.8" height="0.8"/><rect x="513.7" y="270.0" width="0.8" height="0.8"/><rect x="517.1" y="248.4" width="0.8" height="0.8"/><rect x="516.8" y="258.3" width="0.8" height="0.8"/><rect x="505.0" y="260.0" width="0.8" height="0.8"/><rect x="517.1" y="269.2" width="0.8" height="0.8"/><rect x="519.1" y="251.4" width="0.8" height="0.8"/><rect x="506.3" y="246.4" width="0.8" height="0.8"/><rect x="510.2" y="267.2" width="0.8" height="0.8"/><rect x="504.9" y="264.7" width="0.8" height="0.8"/><rect x="512.9" y="270.1" width="0.8" height="0.8"/><rect x="504.4" y="257.2" width="0.8" height="0.8"/><rect x="504.9" y="275.3" width="0.8" height="0.8"/><rect x="519.7" y="262.1" width="0.8" height="0.8"/><rect x="512.8" y="263.8" width="0.8" height="0.8"/><rect x="512.6" y="261.5" width="0.8" height="0.8"/><rect x="508.3" y="254.2" width="0.8" height="0.8"/><rect x="505.9" y="274.6" width="0.8" height="0.8"/><rect x="515.3" y="263.5" width="0.8" height="0.8"/><rect x="509.3" y="263.4" width="0.8" height="0.8"/><rect x="513.8" y="258.5" width="0.8" height="0.8"/><rect x="512.6" y="264.7" width="0.8" height="0.8"/><rect x="505.0" y="257.5" width="0.8" height="0.8"/><rect x="503.0" y="255.6" width="0.8" height="0.8"/><rect x="518.1" y="246.5" width="0.8" height="0.8"/><rect x="508.9" y="258.7" width="0.8" height="0.8"/><rect x="506.0" y="263.7" width="0.8" height="0.8"/><rect x="520.0" y="263.5" width="0.8" height="0.8"/><rect x="509.9" y="258.7" width="0.8" height="0.8"/><rect x="510.0" y="269.4" width="0.8" height="0.8"/><rect x="507.8" y="255.0" width="0.8" height="0.8"/><rect x="500.9" y="255.3" width="0.8" height="0.8"/><rect x="499.9" y="270.7" width="0.8" height="0.8"/><rect x="513.8" y="261.3" width="0.8" height="0.8"/><rect x="522.7" y="258.4" width="0.8" height="0.8"/><rect x="517.0" y="268.6" width="0.8" height="0.8"/><rect x="498.6" y="252.1" width="0.8" height="0.8"/><rect x="503.6" y="269.3" width="0.8" height="0.8"/><rect x="521.4" y="254.4" width="0.8" height="0.8"/><rect x="519.4" y="260.3" width="0.8" height="0.8"/><rect x="507.9" y="259.1" width="0.8" height="0.8"/><rect x="508.4" y="250.3" width="0.8" height="0.8"/><rect x="503.0" y="254.4" width="0.8" height="0.8"/><rect x="514.9" y="277.6" width="0.8" height="0.8"/><rect x="532.9" y="260.6" width="0.8" height="0.8"/><rect x="497.2" y="260.2" width="0.8" height="0.8"/><rect x="503.5" y="276.9" width="0.8" height="0.8"/><rect x="515.6" y="257.9" width="0.8" height="0.8"/><rect x="518.5" y="266.8" width="0.8" height="0.8"/><rect x="498.0" y="259.3" width="0.8" height="0.8"/><rect x="509.1" y="263.1" width="0.8" height="0.8"/><rect x="512.1" y="260.6" width="0.8" height="0.8"/><rect x="512.5" y="258.9" width="0.8" height="0.8"/><rect x="503.8" y="273.6" width="0.8" height="0.8"/><rect x="513.9" y="266.1" width="0.8" height="0.8"/><rect x="498.2" y="261.8" width="0.8" height="0.8"/><rect x="517.6" y="254.0" width="0.8" height="0.8"/><rect x="519.8" y="260.3" width="0.8" height="0.8"/><rect x="514.2" y="262.1" width="0.8" height="0.8"/><rect x="512.7" y="271.4" width="0.8" height="0.8"/><rect x="507.8" y="274.0" width="0.8" height="0.8"/><rect x="504.7" y="256.5" width="0.8" height="0.8"/><rect x="516.7" y="255.5" width="0.8" height="0.8"/><rect x="508.0" y="269.3" width="0.8" height="0.8"/><rect x="520.7" y="250.6" width="0.8" height="0.8"/><rect x="515.0" y="276.2" width="0.8" height="0.8"/><rect x="520.6" y="261.3" width="0.8" height="0.8"/><rect x="506.2" y="260.9" width="0.8" height="0.8"/><rect x="501.8" y="261.1" width="0.8" height="0.8"/><rect x="509.5" y="262.0" width="0.8" height="0.8"/><rect x="520.5" y="261.4" width="0.8" height="0.8"/><rect x="499.3" y="270.4" width="0.8" height="0.8"/><rect x="502.4" y="259.9" width="0.8" height="0.8"/><rect x="509.9" y="260.6" width="0.8" height="0.8"/><rect x="503.0" y="261.3" width="0.8" height="0.8"/><rect x="528.5" y="258.8" width="0.8" height="0.8"/><rect x="509.9" y="270.9" width="0.8" height="0.8"/><rect x="517.0" y="268.3" width="0.8" height="0.8"/><rect x="517.9" y="249.2" width="0.8" height="0.8"/><rect x="504.1" y="263.9" width="0.8" height="0.8"/><rect x="515.0" y="272.1" width="0.8" height="0.8"/><rect x="514.8" y="261.3" width="0.8" height="0.8"/><rect x="511.3" y="261.5" width="0.8" height="0.8"/><rect x="537.0" y="269.7" width="0.8" height="0.8"/><rect x="529.9" y="259.3" width="0.8" height="0.8"/><rect x="523.7" y="272.7" width="0.8" height="0.8"/><rect x="549.4" y="271.9" width="0.8" height="0.8"/><rect x="544.3" y="270.8" width="0.8" height="0.8"/><rect x="534.0" y="269.6" width="0.8" height="0.8"/><rect x="521.4" y="263.6" width="0.8" height="0.8"/><rect x="525.2" y="270.1" width="0.8" height="0.8"/><rect x="527.0" y="264.2" width="0.8" height="0.8"/><rect x="538.8" y="274.5" width="0.8" height="0.8"/><rect x="524.5" y="258.4" width="0.8" height="0.8"/><rect x="543.8" y="257.3" width="0.8" height="0.8"/><rect x="539.4" y="261.0" width="0.8" height="0.8"/><rect x="532.7" y="252.3" width="0.8" height="0.8"/><rect x="542.6" y="261.5" width="0.8" height="0.8"/><rect x="523.2" y="279.5" width="0.8" height="0.8"/><rect x="542.5" y="289.6" width="0.8" height="0.8"/><rect x="538.9" y="262.6" width="0.8" height="0.8"/><rect x="535.3" y="276.2" width="0.8" height="0.8"/><rect x="533.7" y="268.2" width="0.8" height="0.8"/><rect x="540.2" y="258.6" width="0.8" height="0.8"/><rect x="535.5" y="261.5" width="0.8" height="0.8"/><rect x="519.1" y="271.1" width="0.8" height="0.8"/><rect x="542.0" y="265.5" width="0.8" height="0.8"/><rect x="523.1" y="251.0" width="0.8" height="0.8"/><rect x="539.8" y="264.3" width="0.8" height="0.8"/><rect x="513.8" y="264.6" width="0.8" height="0.8"/><rect x="515.7" y="264.8" width="0.8" height="0.8"/><rect x="535.7" y="267.5" width="0.8" height="0.8"/><rect x="536.6" y="266.2" width="0.8" height="0.8"/><rect x="520.3" y="262.3" width="0.8" height="0.8"/><rect x="527.9" y="263.4" width="0.8" height="0.8"/><rect x="537.2" y="269.3" width="0.8" height="0.8"/><rect x="553.6" y="247.0" width="0.8" height="0.8"/><rect x="538.8" y="263.6" width="0.8" height="0.8"/><rect x="561.3" y="271.5" width="0.8" height="0.8"/><rect x="514.2" y="267.8" width="0.8" height="0.8"/><rect x="527.8" y="272.0" width="0.8" height="0.8"/><rect x="521.3" y="264.3" width="0.8" height="0.8"/><rect x="532.4" y="264.3" width="0.8" height="0.8"/><rect x="527.0" y="252.1" width="0.8" height="0.8"/><rect x="539.5" y="272.0" width="0.8" height="0.8"/><rect x="533.2" y="257.9" width="0.8" height="0.8"/><rect x="536.4" y="269.0" width="0.8" height="0.8"/><rect x="531.9" y="264.9" width="0.8" height="0.8"/><rect x="550.9" y="257.2" width="0.8" height="0.8"/><rect x="527.3" y="251.7" width="0.8" height="0.8"/><rect x="525.6" y="259.8" width="0.8" height="0.8"/><rect x="522.5" y="260.1" width="0.8" height="0.8"/><rect x="555.6" y="263.6" width="0.8" height="0.8"/><rect x="532.6" y="280.4" width="0.8" height="0.8"/><rect x="533.3" y="252.9" width="0.8" height="0.8"/><rect x="538.8" y="258.4" width="0.8" height="0.8"/><rect x="553.7" y="256.3" width="0.8" height="0.8"/><rect x="527.0" y="253.8" width="0.8" height="0.8"/><rect x="535.2" y="257.9" width="0.8" height="0.8"/><rect x="533.2" y="262.4" width="0.8" height="0.8"/><rect x="526.6" y="271.6" width="0.8" height="0.8"/><rect x="545.2" y="265.4" width="0.8" height="0.8"/><rect x="523.2" y="257.5" width="0.8" height="0.8"/><rect x="537.2" y="281.7" width="0.8" height="0.8"/><rect x="528.5" y="259.5" width="0.8" height="0.8"/><rect x="525.6" y="257.3" width="0.8" height="0.8"/><rect x="522.3" y="263.6" width="0.8" height="0.8"/><rect x="551.2" y="265.0" width="0.8" height="0.8"/><rect x="527.9" y="253.7" width="0.8" height="0.8"/><rect x="536.6" y="264.8" width="0.8" height="0.8"/><rect x="519.3" y="257.4" width="0.8" height="0.8"/><rect x="533.5" y="272.1" width="0.8" height="0.8"/><rect x="541.5" y="266.4" width="0.8" height="0.8"/><rect x="530.1" y="267.2" width="0.8" height="0.8"/><rect x="533.9" y="280.2" width="0.8" height="0.8"/><rect x="520.4" y="262.4" width="0.8" height="0.8"/><rect x="549.2" y="263.1" width="0.8" height="0.8"/><rect x="551.1" y="264.7" width="0.8" height="0.8"/><rect x="535.7" y="262.4" width="0.8" height="0.8"/><rect x="517.4" y="258.2" width="0.8" height="0.8"/><rect x="560.6" y="269.5" width="0.8" height="0.8"/><rect x="541.3" y="271.7" width="0.8" height="0.8"/><rect x="540.8" y="272.2" width="0.8" height="0.8"/><rect x="530.8" y="263.4" width="0.8" height="0.8"/><rect x="545.8" y="262.5" width="0.8" height="0.8"/><rect x="518.0" y="263.4" width="0.8" height="0.8"/><rect x="527.5" y="269.3" width="0.8" height="0.8"/><rect x="525.4" y="257.6" width="0.8" height="0.8"/><rect x="530.0" y="275.9" width="0.8" height="0.8"/><rect x="533.4" y="266.1" width="0.8" height="0.8"/><rect x="534.1" y="267.1" width="0.8" height="0.8"/><rect x="545.1" y="274.8" width="0.8" height="0.8"/><rect x="514.3" y="274.5" width="0.8" height="0.8"/><rect x="534.0" y="262.8" width="0.8" height="0.8"/><rect x="562.8" y="263.8" width="0.8" height="0.8"/><rect x="557.3" y="271.8" width="0.8" height="0.8"/><rect x="521.6" y="268.4" width="0.8" height="0.8"/><rect x="542.8" y="264.1" width="0.8" height="0.8"/><rect x="506.1" y="262.6" width="0.8" height="0.8"/><rect x="531.7" y="257.2" width="0.8" height="0.8"/><rect x="555.9" y="263.3" width="0.8" height="0.8"/><rect x="529.3" y="262.9" width="0.8" height="0.8"/><rect x="524.6" y="259.6" width="0.8" height="0.8"/><rect x="535.1" y="267.2" width="0.8" height="0.8"/><rect x="527.9" y="264.4" width="0.8" height="0.8"/><rect x="517.3" y="268.7" width="0.8" height="0.8"/><rect x="525.0" y="266.5" width="0.8" height="0.8"/><rect x="523.1" y="261.4" width="0.8" height="0.8"/><rect x="536.6" y="256.5" width="0.8" height="0.8"/><rect x="563.6" y="264.7" width="0.8" height="0.8"/><rect x="533.1" y="259.9" width="0.8" height="0.8"/><rect x="553.1" y="274.7" width="0.8" height="0.8"/><rect x="537.6" y="255.4" width="0.8" height="0.8"/><rect x="527.9" y="269.3" width="0.8" height="0.8"/><rect x="527.9" y="256.7" width="0.8" height="0.8"/><rect x="519.7" y="259.6" width="0.8" height="0.8"/><rect x="534.2" y="260.5" width="0.8" height="0.8"/><rect x="534.2" y="284.5" width="0.8" height="0.8"/><rect x="555.3" y="257.7" width="0.8" height="0.8"/><rect x="538.1" y="265.6" width="0.8" height="0.8"/><rect x="532.3" y="272.3" width="0.8" height="0.8"/><rect x="530.0" y="262.7" width="0.8" height="0.8"/><rect x="529.5" y="264.3" width="0.8" height="0.8"/><rect x="549.4" y="270.4" width="0.8" height="0.8"/><rect x="517.9" y="261.9" width="0.8" height="0.8"/><rect x="524.4" y="270.7" width="0.8" height="0.8"/><rect x="536.7" y="271.2" width="0.8" height="0.8"/><rect x="533.3" y="251.6" width="0.8" height="0.8"/><rect x="539.4" y="266.6" width="0.8" height="0.8"/><rect x="540.1" y="255.9" width="0.8" height="0.8"/><rect x="535.0" y="260.2" width="0.8" height="0.8"/><rect x="525.8" y="267.5" width="0.8" height="0.8"/><rect x="538.2" y="258.8" width="0.8" height="0.8"/><rect x="513.5" y="247.7" width="0.8" height="0.8"/><rect x="527.1" y="272.9" width="0.8" height="0.8"/><rect x="533.3" y="249.2" width="0.8" height="0.8"/><rect x="523.6" y="268.0" width="0.8" height="0.8"/><rect x="554.1" y="273.2" width="0.8" height="0.8"/><rect x="538.4" y="266.4" width="0.8" height="0.8"/><rect x="521.3" y="261.8" width="0.8" height="0.8"/><rect x="530.0" y="259.6" width="0.8" height="0.8"/><rect x="534.8" y="262.3" width="0.8" height="0.8"/><rect x="538.0" y="275.0" width="0.8" height="0.8"/><rect x="542.9" y="267.9" width="0.8" height="0.8"/><rect x="531.1" y="254.4" width="0.8" height="0.8"/><rect x="532.6" y="268.8" width="0.8" height="0.8"/><rect x="521.9" y="273.8" width="0.8" height="0.8"/><rect x="530.0" y="267.6" width="0.8" height="0.8"/><rect x="530.1" y="256.2" width="0.8" height="0.8"/><rect x="558.8" y="256.9" width="0.8" height="0.8"/><rect x="545.0" y="261.1" width="0.8" height="0.8"/><rect x="537.3" y="259.4" width="0.8" height="0.8"/><rect x="529.0" y="271.4" width="0.8" height="0.8"/><rect x="557.3" y="259.1" width="0.8" height="0.8"/><rect x="534.1" y="271.6" width="0.8" height="0.8"/><rect x="526.4" y="270.0" width="0.8" height="0.8"/><rect x="524.6" y="269.2" width="0.8" height="0.8"/><rect x="539.2" y="273.5" width="0.8" height="0.8"/><rect x="538.4" y="256.6" width="0.8" height="0.8"/><rect x="542.0" y="257.3" width="0.8" height="0.8"/><rect x="543.0" y="275.6" width="0.8" height="0.8"/><rect x="541.1" y="261.1" width="0.8" height="0.8"/><rect x="548.3" y="266.2" width="0.8" height="0.8"/><rect x="519.1" y="262.5" width="0.8" height="0.8"/><rect x="551.0" y="262.9" width="0.8" height="0.8"/><rect x="535.5" y="262.6" width="0.8" height="0.8"/><rect x="513.8" y="261.4" width="0.8" height="0.8"/><rect x="538.3" y="266.5" width="0.8" height="0.8"/><rect x="531.9" y="250.1" width="0.8" height="0.8"/><rect x="548.7" y="270.0" width="0.8" height="0.8"/><rect x="546.3" y="274.1" width="0.8" height="0.8"/><rect x="528.7" y="260.8" width="0.8" height="0.8"/><rect x="537.8" y="276.7" width="0.8" height="0.8"/><rect x="523.1" y="282.6" width="0.8" height="0.8"/><rect x="532.8" y="287.4" width="0.8" height="0.8"/><rect x="554.6" y="282.2" width="0.8" height="0.8"/><rect x="527.6" y="284.3" width="0.8" height="0.8"/><rect x="537.1" y="274.7" width="0.8" height="0.8"/><rect x="548.8" y="280.9" width="0.8" height="0.8"/><rect x="546.8" y="276.1" width="0.8" height="0.8"/><rect x="551.0" y="275.4" width="0.8" height="0.8"/><rect x="550.5" y="273.1" width="0.8" height="0.8"/><rect x="553.8" y="281.8" width="0.8" height="0.8"/><rect x="524.4" y="282.6" width="0.8" height="0.8"/><rect x="543.4" y="278.1" width="0.8" height="0.8"/><rect x="535.1" y="285.6" width="0.8" height="0.8"/><rect x="538.3" y="265.6" width="0.8" height="0.8"/><rect x="535.7" y="286.6" width="0.8" height="0.8"/><rect x="543.0" y="290.1" width="0.8" height="0.8"/><rect x="533.1" y="299.3" width="0.8" height="0.8"/><rect x="548.0" y="285.9" width="0.8" height="0.8"/><rect x="550.9" y="289.7" width="0.8" height="0.8"/><rect x="541.0" y="280.3" width="0.8" height="0.8"/><rect x="550.2" y="286.5" width="0.8" height="0.8"/><rect x="521.1" y="277.4" width="0.8" height="0.8"/><rect x="544.7" y="284.7" width="0.8" height="0.8"/><rect x="542.8" y="287.9" width="0.8" height="0.8"/><rect x="541.5" y="293.5" width="0.8" height="0.8"/><rect x="534.1" y="281.6" width="0.8" height="0.8"/><rect x="543.2" y="288.5" width="0.8" height="0.8"/><rect x="547.9" y="292.9" width="0.8" height="0.8"/><rect x="535.2" y="291.0" width="0.8" height="0.8"/><rect x="544.7" y="277.7" width="0.8" height="0.8"/><rect x="538.6" y="296.5" width="0.8" height="0.8"/><rect x="547.9" y="281.2" width="0.8" height="0.8"/><rect x="516.0" y="279.6" width="0.8" height="0.8"/><rect x="533.0" y="284.5" width="0.8" height="0.8"/><rect x="563.1" y="288.5" width="0.8" height="0.8"/><rect x="543.1" y="278.4" width="0.8" height="0.8"/><rect x="528.1" y="282.8" width="0.8" height="0.8"/><rect x="535.3" y="302.0" width="0.8" height="0.8"/><rect x="536.0" y="280.3" width="0.8" height="0.8"/><rect x="551.3" y="284.5" width="0.8" height="0.8"/><rect x="527.7" y="291.7" width="0.8" height="0.8"/><rect x="536.9" y="276.0" width="0.8" height="0.8"/><rect x="543.2" y="286.9" width="0.8" height="0.8"/><rect x="536.6" y="288.2" width="0.8" height="0.8"/><rect x="548.2" y="278.7" width="0.8" height="0.8"/><rect x="519.4" y="269.6" width="0.8" height="0.8"/><rect x="538.7" y="291.4" width="0.8" height="0.8"/><rect x="550.0" y="292.4" width="0.8" height="0.8"/><rect x="558.6" y="284.1" width="0.8" height="0.8"/><rect x="550.6" y="274.8" width="0.8" height="0.8"/><rect x="546.9" y="286.4" width="0.8" height="0.8"/><rect x="539.1" y="281.3" width="0.8" height="0.8"/><rect x="528.8" y="284.8" width="0.8" height="0.8"/><rect x="552.8" y="281.8" width="0.8" height="0.8"/><rect x="545.3" y="280.0" width="0.8" height="0.8"/><rect x="542.5" y="278.0" width="0.8" height="0.8"/><rect x="543.8" y="282.7" width="0.8" height="0.8"/><rect x="543.2" y="280.4" width="0.8" height="0.8"/><rect x="528.2" y="282.0" width="0.8" height="0.8"/><rect x="550.4" y="293.5" width="0.8" height="0.8"/><rect x="536.8" y="288.8" width="0.8" height="0.8"/><rect x="547.6" y="286.4" width="0.8" height="0.8"/><rect x="524.5" y="285.9" width="0.8" height="0.8"/><rect x="530.3" y="291.1" width="0.8" height="0.8"/><rect x="547.9" y="287.7" width="0.8" height="0.8"/><rect x="514.6" y="287.7" width="0.8" height="0.8"/><rect x="547.0" y="276.3" width="0.8" height="0.8"/><rect x="549.7" y="284.5" width="0.8" height="0.8"/><rect x="538.2" y="279.7" width="0.8" height="0.8"/><rect x="529.8" y="281.4" width="0.8" height="0.8"/><rect x="570.9" y="285.2" width="0.8" height="0.8"/><rect x="542.1" y="280.1" width="0.8" height="0.8"/><rect x="533.8" y="280.7" width="0.8" height="0.8"/><rect x="531.1" y="289.3" width="0.8" height="0.8"/><rect x="537.3" y="289.2" width="0.8" height="0.8"/><rect x="528.4" y="289.6" width="0.8" height="0.8"/><rect x="539.7" y="288.0" width="0.8" height="0.8"/><rect x="539.0" y="278.7" width="0.8" height="0.8"/><rect x="552.1" y="281.4" width="0.8" height="0.8"/><rect x="538.5" y="278.7" width="0.8" height="0.8"/><rect x="542.0" y="281.7" width="0.8" height="0.8"/><rect x="542.8" y="286.1" width="0.8" height="0.8"/><rect x="533.1" y="275.5" width="0.8" height="0.8"/><rect x="544.3" y="289.5" width="0.8" height="0.8"/><rect x="547.0" y="277.1" width="0.8" height="0.8"/><rect x="546.1" y="286.3" width="0.8" height="0.8"/><rect x="542.8" y="286.6" width="0.8" height="0.8"/><rect x="536.8" y="285.3" width="0.8" height="0.8"/><rect x="549.3" y="281.0" width="0.8" height="0.8"/><rect x="525.6" y="283.4" width="0.8" height="0.8"/><rect x="542.0" y="272.9" width="0.8" height="0.8"/><rect x="533.2" y="287.5" width="0.8" height="0.8"/><rect x="538.5" y="284.6" width="0.8" height="0.8"/><rect x="527.4" y="289.4" width="0.8" height="0.8"/><rect x="557.5" y="282.8" width="0.8" height="0.8"/><rect x="532.7" y="277.1" width="0.8" height="0.8"/><rect x="548.9" y="284.6" width="0.8" height="0.8"/><rect x="532.1" y="291.3" width="0.8" height="0.8"/><rect x="547.6" y="287.6" width="0.8" height="0.8"/><rect x="522.4" y="283.4" width="0.8" height="0.8"/><rect x="546.3" y="276.7" width="0.8" height="0.8"/><rect x="549.3" y="292.6" width="0.8" height="0.8"/><rect x="550.3" y="279.7" width="0.8" height="0.8"/><rect x="532.9" y="289.7" width="0.8" height="0.8"/><rect x="549.9" y="291.4" width="0.8" height="0.8"/><rect x="552.0" y="283.4" width="0.8" height="0.8"/><rect x="535.9" y="272.9" width="0.8" height="0.8"/><rect x="547.8" y="297.7" width="0.8" height="0.8"/><rect x="535.4" y="281.1" width="0.8" height="0.8"/><rect x="546.5" y="286.2" width="0.8" height="0.8"/><rect x="526.3" y="279.7" width="0.8" height="0.8"/><rect x="529.0" y="296.1" width="0.8" height="0.8"/><rect x="532.8" y="289.1" width="0.8" height="0.8"/><rect x="559.2" y="295.4" width="0.8" height="0.8"/><rect x="554.3" y="293.8" width="0.8" height="0.8"/><rect x="527.6" y="281.9" width="0.8" height="0.8"/><rect x="532.7" y="282.3" width="0.8" height="0.8"/><rect x="566.2" y="273.9" width="0.8" height="0.8"/><rect x="545.6" y="276.6" width="0.8" height="0.8"/><rect x="553.4" y="291.8" width="0.8" height="0.8"/><rect x="534.9" y="296.4" width="0.8" height="0.8"/><rect x="540.7" y="291.8" width="0.8" height="0.8"/><rect x="543.1" y="280.6" width="0.8" height="0.8"/><rect x="536.2" y="283.3" width="0.8" height="0.8"/><rect x="546.2" y="284.8" width="0.8" height="0.8"/><rect x="563.6" y="282.8" width="0.8" height="0.8"/><rect x="535.3" y="279.7" width="0.8" height="0.8"/><rect x="532.2" y="275.4" width="0.8" height="0.8"/><rect x="530.1" y="289.4" width="0.8" height="0.8"/><rect x="540.6" y="283.0" width="0.8" height="0.8"/><rect x="543.5" y="290.4" width="0.8" height="0.8"/><rect x="546.2" y="288.6" width="0.8" height="0.8"/><rect x="534.4" y="282.4" width="0.8" height="0.8"/><rect x="532.2" y="283.4" width="0.8" height="0.8"/><rect x="531.8" y="281.8" width="0.8" height="0.8"/><rect x="538.3" y="282.7" width="0.8" height="0.8"/><rect x="537.3" y="281.0" width="0.8" height="0.8"/><rect x="553.1" y="281.9" width="0.8" height="0.8"/><rect x="529.9" y="285.2" width="0.8" height="0.8"/><rect x="529.1" y="277.6" width="0.8" height="0.8"/><rect x="540.8" y="274.0" width="0.8" height="0.8"/><rect x="507.8" y="285.7" width="0.8" height="0.8"/><rect x="550.3" y="274.0" width="0.8" height="0.8"/><rect x="531.0" y="287.5" width="0.8" height="0.8"/><rect x="520.1" y="278.8" width="0.8" height="0.8"/><rect x="528.0" y="282.8" width="0.8" height="0.8"/><rect x="520.3" y="289.4" width="0.8" height="0.8"/><rect x="538.6" y="285.8" width="0.8" height="0.8"/><rect x="536.7" y="271.3" width="0.8" height="0.8"/><rect x="538.5" y="276.0" width="0.8" height="0.8"/><rect x="540.1" y="278.9" width="0.8" height="0.8"/><rect x="536.8" y="282.7" width="0.8" height="0.8"/><rect x="547.7" y="288.6" width="0.8" height="0.8"/><rect x="529.9" y="283.9" width="0.8" height="0.8"/><rect x="554.6" y="287.0" width="0.8" height="0.8"/><rect x="532.7" y="283.3" width="0.8" height="0.8"/><rect x="536.5" y="289.6" width="0.8" height="0.8"/><rect x="540.3" y="286.3" width="0.8" height="0.8"/><rect x="562.1" y="275.7" width="0.8" height="0.8"/><rect x="529.9" y="273.6" width="0.8" height="0.8"/><rect x="524.1" y="289.1" width="0.8" height="0.8"/><rect x="542.9" y="293.8" width="0.8" height="0.8"/><rect x="520.3" y="278.7" width="0.8" height="0.8"/><rect x="554.4" y="290.2" width="0.8" height="0.8"/><rect x="548.8" y="289.2" width="0.8" height="0.8"/><rect x="540.3" y="283.9" width="0.8" height="0.8"/><rect x="540.3" y="289.1" width="0.8" height="0.8"/><rect x="538.4" y="285.9" width="0.8" height="0.8"/><rect x="554.5" y="277.2" width="0.8" height="0.8"/><rect x="532.5" y="287.4" width="0.8" height="0.8"/><rect x="496.8" y="281.6" width="0.8" height="0.8"/><rect x="525.2" y="286.7" width="0.8" height="0.8"/><rect x="495.0" y="292.9" width="0.8" height="0.8"/><rect x="530.2" y="273.0" width="0.8" height="0.8"/><rect x="492.0" y="284.0" width="0.8" height="0.8"/><rect x="492.4" y="302.5" width="0.8" height="0.8"/><rect x="506.3" y="279.4" width="0.8" height="0.8"/><rect x="505.9" y="275.8" width="0.8" height="0.8"/><rect x="492.7" y="284.0" width="0.8" height="0.8"/><rect x="528.7" y="262.7" width="0.8" height="0.8"/><rect x="505.0" y="295.2" width="0.8" height="0.8"/><rect x="508.9" y="300.3" width="0.8" height="0.8"/><rect x="505.4" y="284.3" width="0.8" height="0.8"/><rect x="498.4" y="275.3" width="0.8" height="0.8"/><rect x="519.6" y="272.4" width="0.8" height="0.8"/><rect x="498.5" y="278.3" width="0.8" height="0.8"/><rect x="490.6" y="263.0" width="0.8" height="0.8"/><rect x="495.4" y="284.2" width="0.8" height="0.8"/><rect x="501.7" y="290.6" width="0.8" height="0.8"/><rect x="498.1" y="277.2" width="0.8" height="0.8"/><rect x="503.7" y="289.0" width="0.8" height="0.8"/><rect x="489.2" y="269.3" width="0.8" height="0.8"/><rect x="487.7" y="292.5" width="0.8" height="0.8"/><rect x="512.0" y="275.0" width="0.8" height="0.8"/><rect x="501.3" y="290.5" width="0.8" height="0.8"/><rect x="515.9" y="277.1" width="0.8" height="0.8"/><rect x="497.1" y="295.7" width="0.8" height="0.8"/><rect x="528.9" y="296.8" width="0.8" height="0.8"/><rect x="486.3" y="287.0" width="0.8" height="0.8"/><rect x="496.4" y="282.5" width="0.8" height="0.8"/><rect x="492.0" y="278.7" width="0.8" height="0.8"/><rect x="499.9" y="299.2" width="0.8" height="0.8"/><rect x="508.4" y="286.8" width="0.8" height="0.8"/><rect x="500.3" y="276.2" width="0.8" height="0.8"/><rect x="497.2" y="294.2" width="0.8" height="0.8"/><rect x="510.0" y="300.7" width="0.8" height="0.8"/><rect x="503.1" y="282.8" width="0.8" height="0.8"/><rect x="480.6" y="286.6" width="0.8" height="0.8"/><rect x="479.3" y="296.7" width="0.8" height="0.8"/><rect x="492.4" y="283.0" width="0.8" height="0.8"/><rect x="483.8" y="278.5" width="0.8" height="0.8"/><rect x="488.8" y="293.2" width="0.8" height="0.8"/><rect x="503.0" y="272.4" width="0.8" height="0.8"/><rect x="476.8" y="282.4" width="0.8" height="0.8"/><rect x="494.2" y="273.0" width="0.8" height="0.8"/><rect x="507.1" y="281.3" width="0.8" height="0.8"/><rect x="501.3" y="277.7" width="0.8" height="0.8"/><rect x="493.2" y="278.9" width="0.8" height="0.8"/><rect x="480.8" y="288.7" width="0.8" height="0.8"/><rect x="504.8" y="267.5" width="0.8" height="0.8"/><rect x="501.2" y="293.4" width="0.8" height="0.8"/><rect x="502.8" y="294.7" width="0.8" height="0.8"/><rect x="496.8" y="283.0" width="0.8" height="0.8"/><rect x="484.4" y="274.9" width="0.8" height="0.8"/><rect x="478.1" y="274.9" width="0.8" height="0.8"/><rect x="502.9" y="287.7" width="0.8" height="0.8"/><rect x="514.0" y="284.2" width="0.8" height="0.8"/><rect x="488.1" y="286.9" width="0.8" height="0.8"/><rect x="498.3" y="299.1" width="0.8" height="0.8"/><rect x="523.5" y="291.6" width="0.8" height="0.8"/><rect x="500.0" y="248.7" width="0.8" height="0.8"/><rect x="529.2" y="246.5" width="0.8" height="0.8"/><rect x="536.5" y="263.2" width="0.8" height="0.8"/><rect x="543.4" y="257.7" width="0.8" height="0.8"/><rect x="505.6" y="244.9" width="0.8" height="0.8"/><rect x="522.3" y="270.9" width="0.8" height="0.8"/><rect x="559.6" y="266.7" width="0.8" height="0.8"/><rect x="533.0" y="263.1" width="0.8" height="0.8"/><rect x="543.1" y="270.5" width="0.8" height="0.8"/><rect x="543.8" y="236.6" width="0.8" height="0.8"/><rect x="546.0" y="259.6" width="0.8" height="0.8"/><rect x="514.9" y="261.3" width="0.8" height="0.8"/><rect x="531.3" y="254.4" width="0.8" height="0.8"/><rect x="487.8" y="256.3" width="0.8" height="0.8"/><rect x="537.2" y="254.4" width="0.8" height="0.8"/><rect x="490.1" y="260.5" width="0.8" height="0.8"/><rect x="540.8" y="257.2" width="0.8" height="0.8"/><rect x="534.4" y="250.8" width="0.8" height="0.8"/><rect x="510.5" y="261.3" width="0.8" height="0.8"/><rect x="517.2" y="257.2" width="0.8" height="0.8"/><rect x="528.0" y="235.5" width="0.8" height="0.8"/><rect x="527.1" y="264.1" width="0.8" height="0.8"/><rect x="509.5" y="252.1" width="0.8" height="0.8"/><rect x="475.4" y="261.7" width="0.8" height="0.8"/><rect x="511.9" y="263.2" width="0.8" height="0.8"/><rect x="555.0" y="253.1" width="0.8" height="0.8"/><rect x="546.7" y="258.0" width="0.8" height="0.8"/><rect x="520.5" y="251.6" width="0.8" height="0.8"/><rect x="506.3" y="270.4" width="0.8" height="0.8"/><rect x="544.4" y="242.9" width="0.8" height="0.8"/><rect x="543.5" y="246.2" width="0.8" height="0.8"/><rect x="491.9" y="269.4" width="0.8" height="0.8"/><rect x="496.8" y="269.2" width="0.8" height="0.8"/><rect x="529.4" y="265.8" width="0.8" height="0.8"/><rect x="536.3" y="268.9" width="0.8" height="0.8"/><rect x="532.6" y="261.9" width="0.8" height="0.8"/><rect x="530.5" y="268.1" width="0.8" height="0.8"/><rect x="516.4" y="267.2" width="0.8" height="0.8"/><rect x="558.1" y="254.2" width="0.8" height="0.8"/><rect x="534.7" y="248.8" width="0.8" height="0.8"/><rect x="518.7" y="258.1" width="0.8" height="0.8"/><rect x="517.5" y="244.4" width="0.8" height="0.8"/><rect x="524.3" y="257.3" width="0.8" height="0.8"/><rect x="532.1" y="263.5" width="0.8" height="0.8"/></g>
<ellipse cx="506" cy="282.5" rx="16.5" ry="11.5" fill="none" stroke="#444" stroke-width="0.5"/>
<ellipse cx="508" cy="283" rx="13" ry="9.5" fill="none" stroke="#444" stroke-width="0.5"/>
<ellipse cx="506" cy="283" rx="10.5" ry="8.5" fill="none" stroke="#444" stroke-width="0.5"/>
<ellipse cx="501.2" cy="283.6" rx="10.5" ry="10" fill="url(#bg1)"/>
<ellipse cx="501.2" cy="283.6" rx="10.5" ry="10.0" fill="none" stroke="#3a3a3a" stroke-width="0.45" opacity="0.7"/>
<ellipse cx="501.5" cy="283.5" rx="9.0" ry="8.6" fill="none" stroke="#3a3a3a" stroke-width="0.45" opacity="0.7"/>
<ellipse cx="501.8" cy="283.4" rx="7.7" ry="7.3" fill="none" stroke="#3a3a3a" stroke-width="0.45" opacity="0.7"/>
<ellipse cx="502.1" cy="283.3" rx="6.4" ry="6.1" fill="none" stroke="#3a3a3a" stroke-width="0.45" opacity="0.7"/>
<ellipse cx="502.4" cy="283.2" rx="5.2" ry="5.0" fill="none" stroke="#3a3a3a" stroke-width="0.45" opacity="0.7"/>
<ellipse cx="502.7" cy="283.1" rx="4.2" ry="4.0" fill="none" stroke="#3a3a3a" stroke-width="0.45" opacity="0.7"/>
<ellipse cx="503.0" cy="283.0" rx="3.1" ry="3.0" fill="none" stroke="#3a3a3a" stroke-width="0.45" opacity="0.7"/>
<ellipse cx="503.3" cy="282.9" rx="2.1" ry="2.0" fill="none" stroke="#3a3a3a" stroke-width="0.45" opacity="0.7"/>
<circle cx="543.6" cy="282" r="5.5" fill="none" stroke="#555" stroke-width="0.45" opacity="0.8"/>
<circle cx="543.6" cy="282" r="4.4" fill="none" stroke="#555" stroke-width="0.45" opacity="0.8"/>
<circle cx="543.6" cy="282" r="3.2" fill="#fff" stroke="#3a3a3a" stroke-width="0.6"/>
<rect x="586.80" y="216.30" width="97.70" height="99.30" fill="none" stroke="#555" stroke-width="0.9" />
<g fill="#555" opacity="0.7"><rect x="605.4" y="263.4" width="0.8" height="0.8"/><rect x="614.8" y="259.1" width="0.8" height="0.8"/><rect x="624.7" y="262.4" width="0.8" height="0.8"/><rect x="614.8" y="272.8" width="0.8" height="0.8"/><rect x="613.0" y="254.4" width="0.8" height="0.8"/><rect x="606.0" y="258.8" width="0.8" height="0.8"/><rect x="622.3" y="267.1" width="0.8" height="0.8"/><rect x="626.1" y="273.1" width="0.8" height="0.8"/><rect x="630.8" y="266.0" width="0.8" height="0.8"/><rect x="627.9" y="266.1" width="0.8" height="0.8"/><rect x="612.8" y="267.2" width="0.8" height="0.8"/><rect x="617.9" y="261.0" width="0.8" height="0.8"/><rect x="633.5" y="267.0" width="0.8" height="0.8"/><rect x="613.5" y="261.9" width="0.8" height="0.8"/><rect x="636.3" y="260.8" width="0.8" height="0.8"/><rect x="623.4" y="266.1" width="0.8" height="0.8"/><rect x="621.6" y="265.9" width="0.8" height="0.8"/><rect x="613.5" y="259.5" width="0.8" height="0.8"/><rect x="616.1" y="260.2" width="0.8" height="0.8"/><rect x="624.0" y="271.7" width="0.8" height="0.8"/><rect x="610.2" y="265.7" width="0.8" height="0.8"/><rect x="609.5" y="258.1" width="0.8" height="0.8"/><rect x="615.5" y="263.0" width="0.8" height="0.8"/><rect x="613.9" y="246.5" width="0.8" height="0.8"/><rect x="628.7" y="260.7" width="0.8" height="0.8"/><rect x="612.3" y="266.5" width="0.8" height="0.8"/><rect x="612.6" y="253.6" width="0.8" height="0.8"/><rect x="621.4" y="264.9" width="0.8" height="0.8"/><rect x="610.7" y="267.4" width="0.8" height="0.8"/><rect x="620.5" y="255.4" width="0.8" height="0.8"/><rect x="631.6" y="264.0" width="0.8" height="0.8"/><rect x="608.2" y="265.1" width="0.8" height="0.8"/><rect x="618.5" y="268.2" width="0.8" height="0.8"/><rect x="606.5" y="268.7" width="0.8" height="0.8"/><rect x="625.1" y="266.6" width="0.8" height="0.8"/><rect x="622.4" y="270.3" width="0.8" height="0.8"/><rect x="623.3" y="263.1" width="0.8" height="0.8"/><rect x="610.6" y="269.1" width="0.8" height="0.8"/><rect x="625.4" y="264.1" width="0.8" height="0.8"/><rect x="618.7" y="266.7" width="0.8" height="0.8"/><rect x="597.0" y="264.3" width="0.8" height="0.8"/><rect x="597.2" y="263.8" width="0.8" height="0.8"/><rect x="626.0" y="273.8" width="0.8" height="0.8"/><rect x="613.6" y="264.9" width="0.8" height="0.8"/><rect x="616.8" y="248.8" width="0.8" height="0.8"/><rect x="623.3" y="262.2" width="0.8" height="0.8"/><rect x="617.9" y="256.6" width="0.8" height="0.8"/><rect x="617.1" y="262.8" width="0.8" height="0.8"/><rect x="627.8" y="264.1" width="0.8" height="0.8"/><rect x="645.7" y="259.8" width="0.8" height="0.8"/><rect x="615.2" y="262.0" width="0.8" height="0.8"/><rect x="610.8" y="271.5" width="0.8" height="0.8"/><rect x="622.6" y="254.5" width="0.8" height="0.8"/><rect x="618.3" y="269.3" width="0.8" height="0.8"/><rect x="605.9" y="263.2" width="0.8" height="0.8"/><rect x="615.5" y="276.5" width="0.8" height="0.8"/><rect x="620.7" y="259.8" width="0.8" height="0.8"/><rect x="612.8" y="273.8" width="0.8" height="0.8"/><rect x="613.6" y="276.2" width="0.8" height="0.8"/><rect x="604.7" y="261.1" width="0.8" height="0.8"/><rect x="615.4" y="258.0" width="0.8" height="0.8"/><rect x="615.7" y="266.5" width="0.8" height="0.8"/><rect x="612.0" y="253.6" width="0.8" height="0.8"/><rect x="628.3" y="271.2" width="0.8" height="0.8"/><rect x="611.8" y="264.1" width="0.8" height="0.8"/><rect x="596.5" y="268.6" width="0.8" height="0.8"/><rect x="606.6" y="258.9" width="0.8" height="0.8"/><rect x="634.9" y="254.6" width="0.8" height="0.8"/><rect x="617.5" y="255.8" width="0.8" height="0.8"/><rect x="602.4" y="255.2" width="0.8" height="0.8"/><rect x="619.6" y="254.3" width="0.8" height="0.8"/><rect x="612.6" y="266.7" width="0.8" height="0.8"/><rect x="616.1" y="254.3" width="0.8" height="0.8"/><rect x="629.5" y="263.0" width="0.8" height="0.8"/><rect x="628.8" y="255.9" width="0.8" height="0.8"/><rect x="631.1" y="254.1" width="0.8" height="0.8"/><rect x="603.2" y="259.7" width="0.8" height="0.8"/><rect x="614.4" y="263.9" width="0.8" height="0.8"/><rect x="612.8" y="266.1" width="0.8" height="0.8"/><rect x="628.2" y="258.3" width="0.8" height="0.8"/><rect x="606.2" y="259.8" width="0.8" height="0.8"/><rect x="624.0" y="267.2" width="0.8" height="0.8"/><rect x="614.6" y="256.3" width="0.8" height="0.8"/><rect x="617.2" y="268.1" width="0.8" height="0.8"/><rect x="611.6" y="270.2" width="0.8" height="0.8"/><rect x="619.2" y="264.0" width="0.8" height="0.8"/><rect x="612.3" y="270.6" width="0.8" height="0.8"/><rect x="617.7" y="253.2" width="0.8" height="0.8"/><rect x="624.0" y="259.7" width="0.8" height="0.8"/><rect x="626.1" y="263.3" width="0.8" height="0.8"/><rect x="612.3" y="263.3" width="0.8" height="0.8"/><rect x="613.4" y="257.2" width="0.8" height="0.8"/><rect x="617.5" y="267.3" width="0.8" height="0.8"/><rect x="617.9" y="261.7" width="0.8" height="0.8"/><rect x="612.9" y="265.7" width="0.8" height="0.8"/><rect x="619.6" y="268.1" width="0.8" height="0.8"/><rect x="620.3" y="275.2" width="0.8" height="0.8"/><rect x="604.6" y="261.9" width="0.8" height="0.8"/><rect x="621.7" y="267.7" width="0.8" height="0.8"/><rect x="604.9" y="254.8" width="0.8" height="0.8"/><rect x="617.0" y="268.7" width="0.8" height="0.8"/><rect x="626.2" y="253.0" width="0.8" height="0.8"/><rect x="618.4" y="269.4" width="0.8" height="0.8"/><rect x="617.6" y="256.0" width="0.8" height="0.8"/><rect x="611.5" y="254.2" width="0.8" height="0.8"/><rect x="627.0" y="260.7" width="0.8" height="0.8"/><rect x="613.9" y="256.9" width="0.8" height="0.8"/><rect x="616.2" y="256.7" width="0.8" height="0.8"/><rect x="609.4" y="262.0" width="0.8" height="0.8"/><rect x="615.5" y="265.0" width="0.8" height="0.8"/><rect x="618.5" y="269.4" width="0.8" height="0.8"/><rect x="617.0" y="263.8" width="0.8" height="0.8"/><rect x="619.2" y="257.4" width="0.8" height="0.8"/><rect x="627.0" y="258.8" width="0.8" height="0.8"/><rect x="604.5" y="269.8" width="0.8" height="0.8"/><rect x="622.6" y="258.8" width="0.8" height="0.8"/><rect x="625.1" y="268.1" width="0.8" height="0.8"/><rect x="623.0" y="255.1" width="0.8" height="0.8"/><rect x="618.8" y="256.0" width="0.8" height="0.8"/><rect x="612.4" y="258.8" width="0.8" height="0.8"/><rect x="610.5" y="265.2" width="0.8" height="0.8"/><rect x="611.0" y="266.0" width="0.8" height="0.8"/><rect x="618.7" y="258.6" width="0.8" height="0.8"/><rect x="618.7" y="266.4" width="0.8" height="0.8"/><rect x="626.6" y="260.7" width="0.8" height="0.8"/><rect x="631.4" y="265.7" width="0.8" height="0.8"/><rect x="627.4" y="254.1" width="0.8" height="0.8"/><rect x="608.8" y="269.6" width="0.8" height="0.8"/><rect x="615.5" y="265.1" width="0.8" height="0.8"/><rect x="627.0" y="253.5" width="0.8" height="0.8"/><rect x="621.0" y="274.0" width="0.8" height="0.8"/><rect x="623.8" y="262.8" width="0.8" height="0.8"/><rect x="621.9" y="262.3" width="0.8" height="0.8"/><rect x="623.6" y="270.1" width="0.8" height="0.8"/><rect x="615.5" y="265.7" width="0.8" height="0.8"/><rect x="619.8" y="266.7" width="0.8" height="0.8"/><rect x="624.1" y="255.8" width="0.8" height="0.8"/><rect x="626.7" y="267.5" width="0.8" height="0.8"/><rect x="608.5" y="260.5" width="0.8" height="0.8"/><rect x="605.6" y="260.5" width="0.8" height="0.8"/><rect x="620.0" y="255.2" width="0.8" height="0.8"/><rect x="611.1" y="256.9" width="0.8" height="0.8"/><rect x="611.7" y="257.6" width="0.8" height="0.8"/><rect x="608.7" y="265.7" width="0.8" height="0.8"/><rect x="615.6" y="257.3" width="0.8" height="0.8"/><rect x="625.3" y="258.8" width="0.8" height="0.8"/><rect x="624.5" y="254.8" width="0.8" height="0.8"/><rect x="628.7" y="259.5" width="0.8" height="0.8"/><rect x="609.7" y="264.7" width="0.8" height="0.8"/><rect x="606.6" y="255.7" width="0.8" height="0.8"/><rect x="619.2" y="259.3" width="0.8" height="0.8"/><rect x="620.5" y="263.1" width="0.8" height="0.8"/><rect x="619.4" y="263.0" width="0.8" height="0.8"/><rect x="623.1" y="262.2" width="0.8" height="0.8"/><rect x="626.2" y="268.0" width="0.8" height="0.8"/><rect x="601.5" y="251.6" width="0.8" height="0.8"/><rect x="629.9" y="259.6" width="0.8" height="0.8"/><rect x="618.8" y="261.6" width="0.8" height="0.8"/><rect x="619.5" y="275.6" width="0.8" height="0.8"/><rect x="611.6" y="262.6" width="0.8" height="0.8"/><rect x="617.4" y="255.7" width="0.8" height="0.8"/><rect x="610.3" y="260.6" width="0.8" height="0.8"/><rect x="617.2" y="264.6" width="0.8" height="0.8"/><rect x="601.5" y="252.8" width="0.8" height="0.8"/><rect x="630.6" y="261.1" width="0.8" height="0.8"/><rect x="623.9" y="259.7" width="0.8" height="0.8"/><rect x="611.6" y="275.0" width="0.8" height="0.8"/><rect x="607.4" y="256.7" width="0.8" height="0.8"/><rect x="622.7" y="262.3" width="0.8" height="0.8"/><rect x="604.1" y="263.1" width="0.8" height="0.8"/><rect x="623.2" y="253.0" width="0.8" height="0.8"/><rect x="612.8" y="267.0" width="0.8" height="0.8"/><rect x="632.7" y="248.2" width="0.8" height="0.8"/><rect x="611.8" y="262.4" width="0.8" height="0.8"/><rect x="610.0" y="256.8" width="0.8" height="0.8"/><rect x="613.3" y="265.3" width="0.8" height="0.8"/><rect x="608.7" y="267.4" width="0.8" height="0.8"/><rect x="624.0" y="267.4" width="0.8" height="0.8"/><rect x="629.6" y="259.1" width="0.8" height="0.8"/><rect x="616.9" y="268.2" width="0.8" height="0.8"/><rect x="627.5" y="267.9" width="0.8" height="0.8"/><rect x="613.7" y="259.3" width="0.8" height="0.8"/><rect x="606.7" y="259.6" width="0.8" height="0.8"/><rect x="610.1" y="259.3" width="0.8" height="0.8"/><rect x="614.2" y="267.2" width="0.8" height="0.8"/><rect x="624.2" y="261.9" width="0.8" height="0.8"/><rect x="608.1" y="261.9" width="0.8" height="0.8"/><rect x="620.8" y="267.4" width="0.8" height="0.8"/><rect x="619.0" y="267.1" width="0.8" height="0.8"/><rect x="612.0" y="266.1" width="0.8" height="0.8"/><rect x="647.8" y="261.2" width="0.8" height="0.8"/><rect x="632.8" y="270.0" width="0.8" height="0.8"/><rect x="630.4" y="267.0" width="0.8" height="0.8"/><rect x="637.7" y="261.3" width="0.8" height="0.8"/><rect x="637.8" y="260.8" width="0.8" height="0.8"/><rect x="640.0" y="273.0" width="0.8" height="0.8"/><rect x="654.9" y="262.5" width="0.8" height="0.8"/><rect x="645.1" y="268.2" width="0.8" height="0.8"/><rect x="636.1" y="273.3" width="0.8" height="0.8"/><rect x="640.7" y="266.6" width="0.8" height="0.8"/><rect x="630.8" y="257.0" width="0.8" height="0.8"/><rect x="630.4" y="259.6" width="0.8" height="0.8"/><rect x="650.7" y="261.5" width="0.8" height="0.8"/><rect x="649.2" y="260.9" width="0.8" height="0.8"/><rect x="630.8" y="264.1" width="0.8" height="0.8"/><rect x="636.4" y="254.0" width="0.8" height="0.8"/><rect x="640.8" y="269.7" width="0.8" height="0.8"/><rect x="638.3" y="256.6" width="0.8" height="0.8"/><rect x="632.8" y="256.5" width="0.8" height="0.8"/><rect x="637.9" y="258.0" width="0.8" height="0.8"/><rect x="639.2" y="264.2" width="0.8" height="0.8"/><rect x="653.6" y="256.8" width="0.8" height="0.8"/><rect x="619.8" y="272.1" width="0.8" height="0.8"/><rect x="644.7" y="261.2" width="0.8" height="0.8"/><rect x="645.4" y="258.1" width="0.8" height="0.8"/><rect x="637.0" y="266.9" width="0.8" height="0.8"/><rect x="637.2" y="263.9" width="0.8" height="0.8"/><rect x="644.7" y="263.9" width="0.8" height="0.8"/><rect x="637.9" y="266.0" width="0.8" height="0.8"/><rect x="653.6" y="270.2" width="0.8" height="0.8"/><rect x="631.6" y="267.4" width="0.8" height="0.8"/><rect x="621.3" y="255.4" width="0.8" height="0.8"/><rect x="644.4" y="266.1" width="0.8" height="0.8"/><rect x="654.0" y="253.7" width="0.8" height="0.8"/><rect x="651.2" y="260.2" width="0.8" height="0.8"/><rect x="635.7" y="265.6" width="0.8" height="0.8"/><rect x="654.4" y="258.0" width="0.8" height="0.8"/><rect x="623.2" y="259.9" width="0.8" height="0.8"/><rect x="639.2" y="269.8" width="0.8" height="0.8"/><rect x="644.0" y="261.5" width="0.8" height="0.8"/><rect x="635.3" y="260.6" width="0.8" height="0.8"/><rect x="650.0" y="254.0" width="0.8" height="0.8"/><rect x="633.4" y="258.4" width="0.8" height="0.8"/><rect x="651.6" y="263.9" width="0.8" height="0.8"/><rect x="633.6" y="267.3" width="0.8" height="0.8"/><rect x="659.9" y="268.8" width="0.8" height="0.8"/><rect x="627.3" y="262.0" width="0.8" height="0.8"/><rect x="651.7" y="253.2" width="0.8" height="0.8"/><rect x="628.1" y="260.9" width="0.8" height="0.8"/><rect x="645.5" y="258.6" width="0.8" height="0.8"/><rect x="641.8" y="262.3" width="0.8" height="0.8"/><rect x="643.5" y="256.5" width="0.8" height="0.8"/><rect x="618.1" y="251.3" width="0.8" height="0.8"/><rect x="641.9" y="268.5" width="0.8" height="0.8"/><rect x="645.1" y="254.3" width="0.8" height="0.8"/><rect x="622.9" y="261.6" width="0.8" height="0.8"/><rect x="631.1" y="253.0" width="0.8" height="0.8"/><rect x="634.4" y="258.8" width="0.8" height="0.8"/><rect x="639.1" y="265.2" width="0.8" height="0.8"/><rect x="642.1" y="264.1" width="0.8" height="0.8"/><rect x="645.4" y="262.5" width="0.8" height="0.8"/><rect x="635.7" y="261.2" width="0.8" height="0.8"/><rect x="652.1" y="261.6" width="0.8" height="0.8"/><rect x="648.3" y="272.2" width="0.8" height="0.8"/><rect x="657.6" y="251.3" width="0.8" height="0.8"/><rect x="641.7" y="268.5" width="0.8" height="0.8"/><rect x="635.7" y="259.2" width="0.8" height="0.8"/><rect x="625.9" y="259.4" width="0.8" height="0.8"/><rect x="640.2" y="252.7" width="0.8" height="0.8"/><rect x="640.0" y="258.5" width="0.8" height="0.8"/><rect x="640.4" y="257.1" width="0.8" height="0.8"/><rect x="641.0" y="264.0" width="0.8" height="0.8"/><rect x="633.2" y="259.4" width="0.8" height="0.8"/><rect x="649.6" y="266.6" width="0.8" height="0.8"/><rect x="632.4" y="265.5" width="0.8" height="0.8"/><rect x="628.6" y="260.2" width="0.8" height="0.8"/><rect x="611.0" y="260.0" width="0.8" height="0.8"/><rect x="647.0" y="260.4" width="0.8" height="0.8"/><rect x="646.0" y="259.6" width="0.8" height="0.8"/><rect x="643.2" y="262.3" width="0.8" height="0.8"/><rect x="630.4" y="274.6" width="0.8" height="0.8"/><rect x="631.7" y="255.7" width="0.8" height="0.8"/><rect x="641.4" y="265.7" width="0.8" height="0.8"/><rect x="643.6" y="262.5" width="0.8" height="0.8"/><rect x="644.8" y="268.2" width="0.8" height="0.8"/><rect x="646.4" y="255.5" width="0.8" height="0.8"/><rect x="657.4" y="262.9" width="0.8" height="0.8"/><rect x="619.7" y="267.7" width="0.8" height="0.8"/><rect x="638.7" y="264.6" width="0.8" height="0.8"/><rect x="660.0" y="260.1" width="0.8" height="0.8"/><rect x="659.1" y="278.2" width="0.8" height="0.8"/><rect x="665.6" y="286.4" width="0.8" height="0.8"/><rect x="667.2" y="283.9" width="0.8" height="0.8"/><rect x="647.1" y="284.4" width="0.8" height="0.8"/><rect x="672.8" y="280.5" width="0.8" height="0.8"/><rect x="659.8" y="278.0" width="0.8" height="0.8"/><rect x="666.1" y="275.3" width="0.8" height="0.8"/><rect x="679.4" y="282.1" width="0.8" height="0.8"/><rect x="659.3" y="277.0" width="0.8" height="0.8"/><rect x="668.4" y="287.9" width="0.8" height="0.8"/><rect x="659.6" y="283.9" width="0.8" height="0.8"/><rect x="666.5" y="287.9" width="0.8" height="0.8"/><rect x="669.0" y="289.2" width="0.8" height="0.8"/><rect x="652.8" y="296.1" width="0.8" height="0.8"/><rect x="660.1" y="277.5" width="0.8" height="0.8"/><rect x="656.7" y="285.0" width="0.8" height="0.8"/><rect x="670.3" y="295.2" width="0.8" height="0.8"/><rect x="673.9" y="279.3" width="0.8" height="0.8"/><rect x="661.4" y="280.7" width="0.8" height="0.8"/><rect x="659.3" y="282.2" width="0.8" height="0.8"/><rect x="659.2" y="288.9" width="0.8" height="0.8"/><rect x="666.8" y="286.2" width="0.8" height="0.8"/><rect x="662.9" y="277.3" width="0.8" height="0.8"/><rect x="667.6" y="281.1" width="0.8" height="0.8"/><rect x="680.0" y="289.2" width="0.8" height="0.8"/><rect x="654.5" y="278.1" width="0.8" height="0.8"/><rect x="659.7" y="282.0" width="0.8" height="0.8"/><rect x="673.3" y="282.2" width="0.8" height="0.8"/><rect x="667.8" y="281.5" width="0.8" height="0.8"/><rect x="662.4" y="289.2" width="0.8" height="0.8"/><rect x="664.2" y="292.9" width="0.8" height="0.8"/><rect x="663.8" y="285.0" width="0.8" height="0.8"/><rect x="667.3" y="286.4" width="0.8" height="0.8"/><rect x="679.5" y="279.7" width="0.8" height="0.8"/><rect x="659.9" y="278.4" width="0.8" height="0.8"/><rect x="678.6" y="285.4" width="0.8" height="0.8"/><rect x="667.8" y="285.4" width="0.8" height="0.8"/><rect x="649.4" y="287.0" width="0.8" height="0.8"/><rect x="665.2" y="284.6" width="0.8" height="0.8"/><rect x="664.9" y="282.6" width="0.8" height="0.8"/><rect x="663.6" y="280.3" width="0.8" height="0.8"/><rect x="662.3" y="286.3" width="0.8" height="0.8"/><rect x="647.3" y="287.2" width="0.8" height="0.8"/><rect x="669.3" y="277.8" width="0.8" height="0.8"/><rect x="668.2" y="284.6" width="0.8" height="0.8"/><rect x="660.0" y="291.5" width="0.8" height="0.8"/><rect x="665.6" y="282.4" width="0.8" height="0.8"/><rect x="653.7" y="294.0" width="0.8" height="0.8"/><rect x="665.9" y="284.7" width="0.8" height="0.8"/><rect x="662.3" y="293.4" width="0.8" height="0.8"/><rect x="662.9" y="291.0" width="0.8" height="0.8"/><rect x="672.6" y="288.0" width="0.8" height="0.8"/><rect x="669.2" y="288.9" width="0.8" height="0.8"/><rect x="663.2" y="272.7" width="0.8" height="0.8"/><rect x="642.7" y="288.7" width="0.8" height="0.8"/><rect x="647.7" y="289.8" width="0.8" height="0.8"/><rect x="669.0" y="285.5" width="0.8" height="0.8"/><rect x="658.5" y="273.2" width="0.8" height="0.8"/><rect x="663.4" y="291.5" width="0.8" height="0.8"/><rect x="663.3" y="283.1" width="0.8" height="0.8"/><rect x="664.8" y="283.3" width="0.8" height="0.8"/><rect x="666.5" y="294.5" width="0.8" height="0.8"/><rect x="657.2" y="274.0" width="0.8" height="0.8"/><rect x="670.9" y="280.5" width="0.8" height="0.8"/><rect x="660.1" y="276.1" width="0.8" height="0.8"/><rect x="662.7" y="280.9" width="0.8" height="0.8"/><rect x="667.6" y="281.1" width="0.8" height="0.8"/><rect x="652.5" y="285.6" width="0.8" height="0.8"/><rect x="663.5" y="273.6" width="0.8" height="0.8"/><rect x="635.5" y="289.7" width="0.8" height="0.8"/><rect x="639.4" y="283.2" width="0.8" height="0.8"/><rect x="648.5" y="281.3" width="0.8" height="0.8"/><rect x="630.5" y="288.3" width="0.8" height="0.8"/><rect x="638.0" y="281.4" width="0.8" height="0.8"/><rect x="643.4" y="286.7" width="0.8" height="0.8"/><rect x="653.3" y="291.1" width="0.8" height="0.8"/><rect x="641.5" y="285.0" width="0.8" height="0.8"/><rect x="627.2" y="286.3" width="0.8" height="0.8"/><rect x="635.3" y="290.1" width="0.8" height="0.8"/><rect x="651.4" y="289.0" width="0.8" height="0.8"/><rect x="639.5" y="287.1" width="0.8" height="0.8"/><rect x="661.3" y="295.3" width="0.8" height="0.8"/><rect x="632.1" y="268.2" width="0.8" height="0.8"/><rect x="649.0" y="276.0" width="0.8" height="0.8"/><rect x="641.0" y="287.8" width="0.8" height="0.8"/><rect x="661.2" y="284.1" width="0.8" height="0.8"/><rect x="638.7" y="281.7" width="0.8" height="0.8"/><rect x="644.5" y="277.8" width="0.8" height="0.8"/><rect x="648.2" y="287.2" width="0.8" height="0.8"/><rect x="659.1" y="283.3" width="0.8" height="0.8"/><rect x="644.8" y="286.3" width="0.8" height="0.8"/><rect x="640.0" y="279.4" width="0.8" height="0.8"/><rect x="632.5" y="285.4" width="0.8" height="0.8"/><rect x="647.2" y="291.3" width="0.8" height="0.8"/><rect x="631.9" y="286.7" width="0.8" height="0.8"/><rect x="648.9" y="290.3" width="0.8" height="0.8"/><rect x="643.8" y="286.4" width="0.8" height="0.8"/><rect x="635.5" y="285.3" width="0.8" height="0.8"/><rect x="637.6" y="274.8" width="0.8" height="0.8"/><rect x="630.5" y="270.8" width="0.8" height="0.8"/><rect x="647.4" y="290.4" width="0.8" height="0.8"/><rect x="635.3" y="286.2" width="0.8" height="0.8"/><rect x="642.6" y="283.7" width="0.8" height="0.8"/><rect x="660.9" y="284.0" width="0.8" height="0.8"/><rect x="644.9" y="284.8" width="0.8" height="0.8"/><rect x="668.3" y="275.4" width="0.8" height="0.8"/><rect x="643.2" y="277.2" width="0.8" height="0.8"/><rect x="630.4" y="279.5" width="0.8" height="0.8"/><rect x="651.1" y="278.7" width="0.8" height="0.8"/><rect x="626.4" y="283.2" width="0.8" height="0.8"/><rect x="627.1" y="279.2" width="0.8" height="0.8"/><rect x="662.4" y="281.2" width="0.8" height="0.8"/><rect x="629.3" y="293.4" width="0.8" height="0.8"/><rect x="641.6" y="291.8" width="0.8" height="0.8"/><rect x="617.7" y="283.4" width="0.8" height="0.8"/><rect x="647.1" y="286.5" width="0.8" height="0.8"/><rect x="648.0" y="292.6" width="0.8" height="0.8"/><rect x="648.6" y="291.7" width="0.8" height="0.8"/><rect x="650.9" y="280.7" width="0.8" height="0.8"/><rect x="643.1" y="293.0" width="0.8" height="0.8"/><rect x="627.3" y="288.4" width="0.8" height="0.8"/><rect x="649.2" y="293.2" width="0.8" height="0.8"/><rect x="617.2" y="299.4" width="0.8" height="0.8"/><rect x="618.8" y="285.2" width="0.8" height="0.8"/><rect x="675.8" y="277.1" width="0.8" height="0.8"/><rect x="671.8" y="286.8" width="0.8" height="0.8"/><rect x="667.2" y="293.9" width="0.8" height="0.8"/><rect x="642.6" y="280.5" width="0.8" height="0.8"/><rect x="636.1" y="277.5" width="0.8" height="0.8"/><rect x="621.2" y="287.5" width="0.8" height="0.8"/><rect x="620.3" y="287.4" width="0.8" height="0.8"/><rect x="639.5" y="284.4" width="0.8" height="0.8"/><rect x="626.0" y="277.8" width="0.8" height="0.8"/><rect x="651.6" y="279.5" width="0.8" height="0.8"/><rect x="632.4" y="284.1" width="0.8" height="0.8"/><rect x="649.9" y="297.0" width="0.8" height="0.8"/><rect x="667.8" y="289.9" width="0.8" height="0.8"/><rect x="649.8" y="289.1" width="0.8" height="0.8"/><rect x="637.5" y="284.0" width="0.8" height="0.8"/><rect x="616.3" y="288.5" width="0.8" height="0.8"/><rect x="633.5" y="287.5" width="0.8" height="0.8"/><rect x="671.7" y="290.3" width="0.8" height="0.8"/><rect x="656.5" y="290.4" width="0.8" height="0.8"/><rect x="632.6" y="281.3" width="0.8" height="0.8"/><rect x="620.1" y="281.8" width="0.8" height="0.8"/><rect x="642.7" y="289.3" width="0.8" height="0.8"/><rect x="648.5" y="283.1" width="0.8" height="0.8"/><rect x="624.6" y="285.5" width="0.8" height="0.8"/><rect x="644.8" y="273.3" width="0.8" height="0.8"/><rect x="633.0" y="238.2" width="0.8" height="0.8"/><rect x="619.4" y="253.7" width="0.8" height="0.8"/><rect x="606.2" y="249.3" width="0.8" height="0.8"/><rect x="630.9" y="243.4" width="0.8" height="0.8"/><rect x="647.7" y="263.2" width="0.8" height="0.8"/><rect x="644.3" y="242.7" width="0.8" height="0.8"/><rect x="625.8" y="251.4" width="0.8" height="0.8"/><rect x="633.5" y="264.3" width="0.8" height="0.8"/><rect x="617.5" y="255.6" width="0.8" height="0.8"/><rect x="651.1" y="251.4" width="0.8" height="0.8"/><rect x="648.5" y="255.1" width="0.8" height="0.8"/><rect x="595.4" y="254.8" width="0.8" height="0.8"/><rect x="634.2" y="250.3" width="0.8" height="0.8"/><rect x="678.3" y="250.7" width="0.8" height="0.8"/><rect x="594.1" y="253.4" width="0.8" height="0.8"/><rect x="625.0" y="261.4" width="0.8" height="0.8"/><rect x="651.0" y="246.7" width="0.8" height="0.8"/><rect x="607.2" y="246.8" width="0.8" height="0.8"/><rect x="625.7" y="249.9" width="0.8" height="0.8"/><rect x="630.4" y="247.6" width="0.8" height="0.8"/><rect x="600.7" y="245.9" width="0.8" height="0.8"/><rect x="649.9" y="241.5" width="0.8" height="0.8"/><rect x="650.0" y="274.9" width="0.8" height="0.8"/><rect x="607.4" y="266.0" width="0.8" height="0.8"/><rect x="651.4" y="223.6" width="0.8" height="0.8"/><rect x="651.8" y="263.0" width="0.8" height="0.8"/><rect x="610.9" y="276.4" width="0.8" height="0.8"/><rect x="637.1" y="243.0" width="0.8" height="0.8"/><rect x="633.1" y="237.0" width="0.8" height="0.8"/><rect x="645.5" y="261.8" width="0.8" height="0.8"/><rect x="661.1" y="272.1" width="0.8" height="0.8"/><rect x="613.3" y="261.2" width="0.8" height="0.8"/><rect x="615.0" y="220.6" width="0.8" height="0.8"/><rect x="654.2" y="269.3" width="0.8" height="0.8"/><rect x="636.0" y="276.0" width="0.8" height="0.8"/><rect x="628.9" y="234.5" width="0.8" height="0.8"/><rect x="618.9" y="251.9" width="0.8" height="0.8"/><rect x="637.2" y="250.3" width="0.8" height="0.8"/></g>
<ellipse cx="612.2" cy="283.4" rx="10.5" ry="9.5" fill="url(#bg1)"/>
<ellipse cx="612.2" cy="283.4" rx="10.5" ry="9.5" fill="none" stroke="#3a3a3a" stroke-width="0.45" opacity="0.7"/>
<ellipse cx="612.5" cy="283.3" rx="9.0" ry="8.2" fill="none" stroke="#3a3a3a" stroke-width="0.45" opacity="0.7"/>
<ellipse cx="612.8" cy="283.2" rx="7.7" ry="6.9" fill="none" stroke="#3a3a3a" stroke-width="0.45" opacity="0.7"/>
<ellipse cx="613.1" cy="283.1" rx="6.4" ry="5.8" fill="none" stroke="#3a3a3a" stroke-width="0.45" opacity="0.7"/>
<ellipse cx="613.4" cy="283.0" rx="5.2" ry="4.8" fill="none" stroke="#3a3a3a" stroke-width="0.45" opacity="0.7"/>
<ellipse cx="613.7" cy="282.9" rx="4.2" ry="3.8" fill="none" stroke="#3a3a3a" stroke-width="0.45" opacity="0.7"/>
<ellipse cx="614.0" cy="282.8" rx="3.1" ry="2.9" fill="none" stroke="#3a3a3a" stroke-width="0.45" opacity="0.7"/>
<ellipse cx="614.3" cy="282.7" rx="2.1" ry="1.9" fill="none" stroke="#3a3a3a" stroke-width="0.45" opacity="0.7"/>
<ellipse cx="641" cy="282" rx="17.5" ry="8" fill="none" stroke="#444" stroke-width="0.5"/>
<ellipse cx="641" cy="282" rx="15" ry="6.6" fill="none" stroke="#444" stroke-width="0.5"/>
<ellipse cx="642" cy="282" rx="12.5" ry="5.4" fill="none" stroke="#444" stroke-width="0.5"/>
<ellipse cx="628" cy="281" rx="4.5" ry="3.6" fill="none" stroke="#444" stroke-width="0.5"/>
<ellipse cx="628" cy="281" rx="3" ry="2.4" fill="none" stroke="#444" stroke-width="0.5"/>
<ellipse cx="648" cy="282.6" rx="9" ry="5.6" fill="none" stroke="#444" stroke-width="0.5"/>
<ellipse cx="648" cy="282.6" rx="7" ry="4.4" fill="none" stroke="#444" stroke-width="0.5"/>
<ellipse cx="648" cy="282.6" rx="5.4" ry="3.5" fill="none" stroke="#444" stroke-width="0.5"/>
<ellipse cx="648.5" cy="282.7" rx="4" ry="2.8" fill="#fff" stroke="#444" stroke-width="0.5"/>
<rect x="478.50" y="236.70" width="42.70" height="36.60" fill="none" stroke="#333" stroke-width="0.9" />
<rect x="509.50" y="274.10" width="58.20" height="24.50" fill="none" stroke="#333" stroke-width="0.9" />
<rect x="591.50" y="236.10" width="41.90" height="36.30" fill="none" stroke="#333" stroke-width="0.9" />
<rect x="622.20" y="273.50" width="56.70" height="24.00" fill="none" stroke="#333" stroke-width="0.9" />
<text x="489.20" y="233.60" font-size="12" textLength="23.3" lengthAdjust="spacingAndGlyphs">3.03</text>
<text x="523.60" y="310.90" font-size="12" textLength="23.3" lengthAdjust="spacingAndGlyphs">11.1</text>
<text x="600.70" y="232.20" font-size="12" textLength="23.7" lengthAdjust="spacingAndGlyphs">3.49</text>
<text x="634.20" y="309.40" font-size="12" textLength="23.7" lengthAdjust="spacingAndGlyphs">18.6</text>
<rect x="471.20" y="292.00" width="2.60" height="3.60" fill="#111" />
<rect x="494.00" y="315.20" width="4.20" height="2.20" fill="#111" />
<rect x="584.60" y="291.20" width="2.60" height="3.60" fill="#111" />
<rect x="606.00" y="314.60" width="4.20" height="2.20" fill="#111" />
<line x1="479.70" y1="316.20" x2="479.70" y2="318.20" stroke="#555" stroke-width="0.6" />
<rect x="477.7" y="321.7" width="4" height="1.6" fill="#888" opacity="0.6"/>
<line x1="496.30" y1="316.20" x2="496.30" y2="318.20" stroke="#555" stroke-width="0.6" />
<rect x="494.3" y="321.7" width="4" height="1.6" fill="#888" opacity="0.6"/>
<line x1="512.50" y1="316.20" x2="512.50" y2="318.20" stroke="#555" stroke-width="0.6" />
<rect x="510.5" y="321.7" width="4" height="1.6" fill="#888" opacity="0.6"/>
<line x1="539.80" y1="316.20" x2="539.80" y2="318.20" stroke="#555" stroke-width="0.6" />
<rect x="537.8" y="321.7" width="4" height="1.6" fill="#888" opacity="0.6"/>
<line x1="564.10" y1="316.20" x2="564.10" y2="318.20" stroke="#555" stroke-width="0.6" />
<rect x="562.1" y="321.7" width="4" height="1.6" fill="#888" opacity="0.6"/>
<rect x="464.2" y="226.3" width="3.5" height="1.6" fill="#888" opacity="0.6"/>
<rect x="464.2" y="249.6" width="3.5" height="1.6" fill="#888" opacity="0.6"/>
<rect x="464.2" y="275.9" width="3.5" height="1.6" fill="#888" opacity="0.6"/>
<rect x="464.2" y="293.1" width="3.5" height="1.6" fill="#888" opacity="0.6"/>
<rect x="464.2" y="309.3" width="3.5" height="1.6" fill="#888" opacity="0.6"/>
<line x1="595.10" y1="315.60" x2="595.10" y2="317.60" stroke="#555" stroke-width="0.6" />
<rect x="593.1" y="321.1" width="4" height="1.6" fill="#888" opacity="0.6"/>
<line x1="610.50" y1="315.60" x2="610.50" y2="317.60" stroke="#555" stroke-width="0.6" />
<rect x="608.5" y="321.1" width="4" height="1.6" fill="#888" opacity="0.6"/>
<line x1="626.40" y1="315.60" x2="626.40" y2="317.60" stroke="#555" stroke-width="0.6" />
<rect x="624.4" y="321.1" width="4" height="1.6" fill="#888" opacity="0.6"/>
<line x1="652.90" y1="315.60" x2="652.90" y2="317.60" stroke="#555" stroke-width="0.6" />
<rect x="650.9" y="321.1" width="4" height="1.6" fill="#888" opacity="0.6"/>
<line x1="676.60" y1="315.60" x2="676.60" y2="317.60" stroke="#555" stroke-width="0.6" />
<rect x="674.6" y="321.1" width="4" height="1.6" fill="#888" opacity="0.6"/>
<rect x="577.8" y="225.7" width="3.5" height="1.6" fill="#888" opacity="0.6"/>
<rect x="577.8" y="249.0" width="3.5" height="1.6" fill="#888" opacity="0.6"/>
<rect x="577.8" y="275.3" width="3.5" height="1.6" fill="#888" opacity="0.6"/>
<rect x="577.8" y="292.5" width="3.5" height="1.6" fill="#888" opacity="0.6"/>
<rect x="577.8" y="308.7" width="3.5" height="1.6" fill="#888" opacity="0.6"/>
<line x1="451.40" y1="336.80" x2="451.40" y2="304.00" stroke="#000" stroke-width="2.0" />
<path d="M447.7,305.2 L451.4,297.4 L455.1,305.2 Z" fill="#000" />
<line x1="450.40" y1="335.80" x2="482.50" y2="335.80" stroke="#000" stroke-width="2.0" />
<path d="M481.0,332.1 L488.8,335.8 L481.0,339.5 Z" fill="#000" />
<text x="494.00" y="339.60" font-size="11.2" textLength="52.0" lengthAdjust="spacingAndGlyphs">Ly6C-APC</text>
<g transform="rotate(-90 455.60 249.30)">
<text x="408.10" y="249.30" font-size="13" textLength="15.93" lengthAdjust="spacingAndGlyphs">CX</text>
<text x="424.03" y="252.55" font-size="9.1" textLength="4.47" lengthAdjust="spacingAndGlyphs">3</text>
<text x="428.50" y="249.30" font-size="13" textLength="74.6" lengthAdjust="spacingAndGlyphs">CR1-Alexa488</text>
</g>
<text x="9.60" y="378.60" font-size="15" font-weight="bold" fill="#000">h</text>
<text x="16.60" y="393.80" font-size="13.7" textLength="16.7" lengthAdjust="spacingAndGlyphs">CX</text>
<text x="33.20" y="397.60" font-size="10.2" textLength="6.7" lengthAdjust="spacingAndGlyphs">3</text>
<text x="39.80" y="393.80" font-size="13.7" textLength="25.5" lengthAdjust="spacingAndGlyphs">CR1</text>
<text x="66.10" y="387.00" font-size="10.4" textLength="19.9" lengthAdjust="spacingAndGlyphs">low</text>
<text x="85.80" y="393.80" font-size="13.7" textLength="30.4" lengthAdjust="spacingAndGlyphs">Ly6C</text>
<text x="116.30" y="388.20" font-size="11" textLength="5.8" lengthAdjust="spacingAndGlyphs">+</text>
<rect x="47.60" y="490.40" width="19.70" height="40.80" fill="#ff9b9b" stroke="#1c1c1c" stroke-width="1.2" />
<rect x="72.40" y="463.20" width="19.30" height="68.00" fill="#8a8aff" stroke="#1c1c1c" stroke-width="1.2" />
<line x1="43.40" y1="416.00" x2="43.40" y2="531.70" stroke="#262626" stroke-width="1.1" />
<line x1="36.00" y1="531.20" x2="96.30" y2="531.20" stroke="#262626" stroke-width="1.1" />
<line x1="36.30" y1="531.20" x2="43.40" y2="531.20" stroke="#262626" stroke-width="1.1" />
<text x="34.00" y="534.57" font-size="9.4" text-anchor="end">0</text>
<line x1="36.30" y1="493.00" x2="43.40" y2="493.00" stroke="#262626" stroke-width="1.1" />
<text x="34.00" y="496.37" font-size="9.4" text-anchor="end">10</text>
<line x1="36.30" y1="454.80" x2="43.40" y2="454.80" stroke="#262626" stroke-width="1.1" />
<text x="34.00" y="458.17" font-size="9.4" text-anchor="end">20</text>
<line x1="36.30" y1="416.60" x2="43.40" y2="416.60" stroke="#262626" stroke-width="1.1" />
<text x="34.00" y="419.97" font-size="9.4" text-anchor="end">30</text>
<line x1="57.30" y1="484.60" x2="57.30" y2="495.20" stroke="#262626" stroke-width="1.0" />
<line x1="52.30" y1="484.60" x2="62.30" y2="484.60" stroke="#262626" stroke-width="1.0" />
<line x1="52.30" y1="495.20" x2="62.30" y2="495.20" stroke="#262626" stroke-width="1.0" />
<line x1="81.70" y1="457.40" x2="81.70" y2="468.30" stroke="#262626" stroke-width="1.0" />
<line x1="76.70" y1="457.40" x2="86.70" y2="457.40" stroke="#262626" stroke-width="1.0" />
<line x1="76.70" y1="468.30" x2="86.70" y2="468.30" stroke="#262626" stroke-width="1.0" />
<circle cx="57.30" cy="462.00" r="2.0" fill="#c4620f"/>
<circle cx="57.30" cy="476.00" r="2.0" fill="#c4620f"/>
<circle cx="49.20" cy="488.70" r="2.0" fill="#c4620f"/>
<circle cx="49.20" cy="495.00" r="2.0" fill="#c4620f"/>
<circle cx="57.30" cy="493.40" r="2.0" fill="#c4620f"/>
<circle cx="65.70" cy="495.00" r="2.0" fill="#c4620f"/>
<circle cx="57.30" cy="499.20" r="2.0" fill="#c4620f"/>
<circle cx="57.30" cy="510.80" r="2.0" fill="#c4620f"/>
<circle cx="81.60" cy="435.90" r="2.0" fill="#00007f"/>
<circle cx="81.60" cy="440.70" r="2.0" fill="#00007f"/>
<circle cx="81.70" cy="455.10" r="2.0" fill="#00007f"/>
<circle cx="77.70" cy="468.30" r="2.0" fill="#00007f"/>
<circle cx="85.90" cy="468.30" r="2.0" fill="#00007f"/>
<circle cx="77.70" cy="475.30" r="2.0" fill="#00007f"/>
<circle cx="85.90" cy="479.00" r="2.0" fill="#00007f"/>
<circle cx="81.70" cy="486.00" r="2.0" fill="#00007f"/>
<line x1="57.30" y1="531.20" x2="57.30" y2="536.40" stroke="#262626" stroke-width="1.1" />
<line x1="81.70" y1="531.20" x2="81.70" y2="536.40" stroke="#262626" stroke-width="1.1" />
<text x="61.20" y="547.50" font-size="12" text-anchor="end" transform="rotate(-45 61.20 547.50)">WT</text>
<text x="85.50" y="547.50" font-size="12" text-anchor="end" transform="rotate(-45 85.50 547.50)">SK930</text>
<text x="68.80" y="422.52" font-size="7.6" text-anchor="middle" textLength="35.2" lengthAdjust="spacingAndGlyphs" style="stroke:none"><tspan font-style="italic">P</tspan> = 0.0034</text>
<path d="M56.9,428.3 V424.5 H81.6 V428.3" fill="none" stroke="#111" stroke-width="1.1" />
<g transform="rotate(-90 17.80 476.40)">
<text x="-22.55" y="476.40" font-size="9" textLength="49.17" lengthAdjust="spacingAndGlyphs">% in CD11b</text>
<text x="26.62" y="472.98" font-size="6.3" textLength="3.82" lengthAdjust="spacingAndGlyphs" style="stroke:none">+</text>
<text x="30.44" y="476.40" font-size="9" textLength="23.89" lengthAdjust="spacingAndGlyphs">F4/80</text>
<text x="54.33" y="472.98" font-size="6.3" textLength="3.82" lengthAdjust="spacingAndGlyphs" style="stroke:none">+</text>
</g>
<text x="147.20" y="394.90" font-size="13.7" textLength="17.3" lengthAdjust="spacingAndGlyphs">CX</text>
<text x="164.30" y="398.60" font-size="10.2" textLength="6.5" lengthAdjust="spacingAndGlyphs">3</text>
<text x="171.10" y="394.90" font-size="13.7" textLength="26.0" lengthAdjust="spacingAndGlyphs">CR1</text>
<text x="197.60" y="387.90" font-size="10.4" textLength="22.7" lengthAdjust="spacingAndGlyphs">high</text>
<text x="221.10" y="394.90" font-size="13.7" textLength="30.9" lengthAdjust="spacingAndGlyphs">Ly6C</text>
<text x="251.70" y="387.60" font-size="9.5" textLength="3.0" lengthAdjust="spacingAndGlyphs">-</text>
<rect x="179.50" y="482.50" width="19.80" height="50.10" fill="#ff9b9b" stroke="#1c1c1c" stroke-width="1.2" />
<rect x="204.70" y="486.20" width="18.80" height="46.40" fill="#8a8aff" stroke="#1c1c1c" stroke-width="1.2" />
<line x1="175.30" y1="418.00" x2="175.30" y2="533.10" stroke="#262626" stroke-width="1.1" />
<line x1="168.00" y1="532.60" x2="228.60" y2="532.60" stroke="#262626" stroke-width="1.1" />
<line x1="168.30" y1="532.60" x2="175.30" y2="532.60" stroke="#262626" stroke-width="1.1" />
<text x="166.00" y="535.97" font-size="9.4" text-anchor="end">0</text>
<line x1="168.30" y1="504.04" x2="175.30" y2="504.04" stroke="#262626" stroke-width="1.1" />
<text x="166.00" y="507.41" font-size="9.4" text-anchor="end">2</text>
<line x1="168.30" y1="475.48" x2="175.30" y2="475.48" stroke="#262626" stroke-width="1.1" />
<text x="166.00" y="478.85" font-size="9.4" text-anchor="end">4</text>
<line x1="168.30" y1="446.92" x2="175.30" y2="446.92" stroke="#262626" stroke-width="1.1" />
<text x="166.00" y="450.29" font-size="9.4" text-anchor="end">6</text>
<line x1="168.30" y1="418.36" x2="175.30" y2="418.36" stroke="#262626" stroke-width="1.1" />
<text x="166.00" y="421.73" font-size="9.4" text-anchor="end">8</text>
<line x1="189.30" y1="476.60" x2="189.30" y2="488.10" stroke="#262626" stroke-width="1.0" />
<line x1="184.30" y1="476.60" x2="194.30" y2="476.60" stroke="#262626" stroke-width="1.0" />
<line x1="184.30" y1="488.10" x2="194.30" y2="488.10" stroke="#262626" stroke-width="1.0" />
<line x1="214.00" y1="477.60" x2="214.00" y2="493.50" stroke="#262626" stroke-width="1.0" />
<line x1="209.00" y1="477.60" x2="219.00" y2="477.60" stroke="#262626" stroke-width="1.0" />
<line x1="209.00" y1="493.50" x2="219.00" y2="493.50" stroke="#262626" stroke-width="1.0" />
<circle cx="189.30" cy="448.30" r="2.0" fill="#c4620f"/>
<circle cx="185.10" cy="475.40" r="2.0" fill="#c4620f"/>
<circle cx="193.20" cy="475.40" r="2.0" fill="#c4620f"/>
<circle cx="185.10" cy="484.40" r="2.0" fill="#c4620f"/>
<circle cx="193.20" cy="484.40" r="2.0" fill="#c4620f"/>
<circle cx="189.30" cy="489.30" r="2.0" fill="#c4620f"/>
<circle cx="189.30" cy="495.40" r="2.0" fill="#c4620f"/>
<circle cx="189.30" cy="502.00" r="2.0" fill="#c4620f"/>
<circle cx="214.00" cy="433.80" r="2.0" fill="#00007f"/>
<circle cx="214.00" cy="452.90" r="2.0" fill="#00007f"/>
<circle cx="214.00" cy="483.20" r="2.0" fill="#00007f"/>
<circle cx="214.00" cy="492.50" r="2.0" fill="#00007f"/>
<circle cx="205.90" cy="499.10" r="2.0" fill="#00007f"/>
<circle cx="205.90" cy="502.80" r="2.0" fill="#00007f"/>
<circle cx="210.30" cy="502.00" r="2.0" fill="#00007f"/>
<circle cx="217.60" cy="502.00" r="2.0" fill="#00007f"/>
<circle cx="222.30" cy="502.00" r="2.0" fill="#00007f"/>
<line x1="189.30" y1="532.60" x2="189.30" y2="537.80" stroke="#262626" stroke-width="1.1" />
<line x1="214.00" y1="532.60" x2="214.00" y2="537.80" stroke="#262626" stroke-width="1.1" />
<text x="193.00" y="547.50" font-size="12" text-anchor="end" transform="rotate(-45 193.00 547.50)">WT</text>
<text x="217.80" y="547.50" font-size="12" text-anchor="end" transform="rotate(-45 217.80 547.50)">SK930</text>
<g transform="rotate(-90 153.80 476.40)">
<text x="113.45" y="476.40" font-size="9" textLength="49.17" lengthAdjust="spacingAndGlyphs">% in CD11b</text>
<text x="162.62" y="472.98" font-size="6.3" textLength="3.82" lengthAdjust="spacingAndGlyphs" style="stroke:none">+</text>
<text x="166.44" y="476.40" font-size="9" textLength="23.89" lengthAdjust="spacingAndGlyphs">F4/80</text>
<text x="190.33" y="472.98" font-size="6.3" textLength="3.82" lengthAdjust="spacingAndGlyphs" style="stroke:none">+</text>
</g>
<text x="282.40" y="378.40" font-size="15" font-weight="bold" fill="#000">i</text>
<text x="288.80" y="395.20" font-size="13.7" textLength="15.2" lengthAdjust="spacingAndGlyphs">Cx</text>
<text x="303.90" y="399.00" font-size="10.2" textLength="6.7" lengthAdjust="spacingAndGlyphs">3</text>
<text x="310.50" y="395.20" font-size="13.7" textLength="25.9" lengthAdjust="spacingAndGlyphs">CR1</text>
<text x="336.90" y="387.90" font-size="10.4" textLength="19.8" lengthAdjust="spacingAndGlyphs">low</text>
<text x="356.60" y="395.20" font-size="13.7" textLength="30.9" lengthAdjust="spacingAndGlyphs">Ly6C</text>
<text x="387.10" y="389.80" font-size="11" textLength="6.0" lengthAdjust="spacingAndGlyphs">+</text>
<rect x="319.20" y="508.50" width="19.30" height="24.10" fill="#ff9b9b" stroke="#1c1c1c" stroke-width="1.2" />
<rect x="343.80" y="478.80" width="19.50" height="53.80" fill="#8a8aff" stroke="#1c1c1c" stroke-width="1.2" />
<line x1="314.90" y1="418.20" x2="314.90" y2="533.10" stroke="#262626" stroke-width="1.1" />
<line x1="307.00" y1="532.60" x2="367.50" y2="532.60" stroke="#262626" stroke-width="1.1" />
<line x1="307.30" y1="532.60" x2="314.90" y2="532.60" stroke="#262626" stroke-width="1.1" />
<text x="305.00" y="535.97" font-size="9.4" text-anchor="end">0</text>
<line x1="307.30" y1="494.54" x2="314.90" y2="494.54" stroke="#262626" stroke-width="1.1" />
<text x="305.00" y="497.91" font-size="9.4" text-anchor="end">2</text>
<line x1="307.30" y1="456.48" x2="314.90" y2="456.48" stroke="#262626" stroke-width="1.1" />
<text x="305.00" y="459.85" font-size="9.4" text-anchor="end">4</text>
<line x1="307.30" y1="418.42" x2="314.90" y2="418.42" stroke="#262626" stroke-width="1.1" />
<text x="305.00" y="421.79" font-size="9.4" text-anchor="end">6</text>
<line x1="328.70" y1="499.60" x2="328.70" y2="515.40" stroke="#262626" stroke-width="1.0" />
<line x1="323.70" y1="499.60" x2="333.70" y2="499.60" stroke="#262626" stroke-width="1.0" />
<line x1="323.70" y1="515.40" x2="333.70" y2="515.40" stroke="#262626" stroke-width="1.0" />
<line x1="353.50" y1="468.30" x2="353.50" y2="487.60" stroke="#262626" stroke-width="1.0" />
<line x1="348.50" y1="468.30" x2="358.50" y2="468.30" stroke="#262626" stroke-width="1.0" />
<line x1="348.50" y1="487.60" x2="358.50" y2="487.60" stroke="#262626" stroke-width="1.0" />
<circle cx="328.70" cy="454.40" r="2.0" fill="#c4620f"/>
<circle cx="328.70" cy="503.10" r="2.0" fill="#c4620f"/>
<circle cx="320.60" cy="509.60" r="2.0" fill="#c4620f"/>
<circle cx="336.80" cy="512.40" r="2.0" fill="#c4620f"/>
<circle cx="328.70" cy="515.40" r="2.0" fill="#c4620f"/>
<circle cx="328.70" cy="520.80" r="2.0" fill="#c4620f"/>
<circle cx="320.60" cy="524.00" r="2.0" fill="#c4620f"/>
<circle cx="336.80" cy="522.40" r="2.0" fill="#c4620f"/>
<circle cx="349.60" cy="441.90" r="2.0" fill="#00007f"/>
<circle cx="357.70" cy="441.20" r="2.0" fill="#00007f"/>
<circle cx="349.60" cy="455.50" r="2.0" fill="#00007f"/>
<circle cx="357.70" cy="455.80" r="2.0" fill="#00007f"/>
<circle cx="353.50" cy="482.90" r="2.0" fill="#00007f"/>
<circle cx="361.70" cy="502.20" r="2.0" fill="#00007f"/>
<circle cx="361.70" cy="507.80" r="2.0" fill="#00007f"/>
<circle cx="353.50" cy="506.10" r="2.0" fill="#00007f"/>
<circle cx="345.40" cy="508.90" r="2.0" fill="#00007f"/>
<line x1="328.70" y1="532.60" x2="328.70" y2="537.80" stroke="#262626" stroke-width="1.1" />
<line x1="353.50" y1="532.60" x2="353.50" y2="537.80" stroke="#262626" stroke-width="1.1" />
<text x="333.20" y="548.50" font-size="12" text-anchor="end" transform="rotate(-45 333.20 548.50)">WT</text>
<text x="358.00" y="548.50" font-size="12" text-anchor="end" transform="rotate(-45 358.00 548.50)">SK930</text>
<text x="342.60" y="426.32" font-size="7.6" text-anchor="middle" textLength="29.4" lengthAdjust="spacingAndGlyphs" style="stroke:none"><tspan font-style="italic">P</tspan> = 0.034</text>
<path d="M328.8,433.6 V429.3 H353.1 V433.6" fill="none" stroke="#111" stroke-width="1.1" />
<g transform="rotate(-90 290.30 473.20)">
<text x="228.10" y="473.20" font-size="9" textLength="60.34" lengthAdjust="spacingAndGlyphs">cells in CD11b</text>
<text x="288.44" y="469.78" font-size="6.3" textLength="3.87" lengthAdjust="spacingAndGlyphs" style="stroke:none">+</text>
<text x="292.31" y="473.20" font-size="9" textLength="24.21" lengthAdjust="spacingAndGlyphs">F4/80</text>
<text x="316.52" y="469.78" font-size="6.3" textLength="3.87" lengthAdjust="spacingAndGlyphs" style="stroke:none">+</text>
<text x="320.39" y="473.20" font-size="9" textLength="25.27" lengthAdjust="spacingAndGlyphs">(1X10</text>
<text x="345.66" y="469.78" font-size="6.3" textLength="3.69" lengthAdjust="spacingAndGlyphs" style="stroke:none">6</text>
<text x="349.35" y="473.20" font-size="9" textLength="3.15" lengthAdjust="spacingAndGlyphs">)</text>
</g>
<text x="416.80" y="395.20" font-size="13.7" textLength="15.2" lengthAdjust="spacingAndGlyphs">Cx</text>
<text x="431.90" y="399.00" font-size="10.2" textLength="6.7" lengthAdjust="spacingAndGlyphs">3</text>
<text x="438.50" y="395.20" font-size="13.7" textLength="25.9" lengthAdjust="spacingAndGlyphs">CR1</text>
<text x="465.10" y="387.90" font-size="10.4" textLength="22.7" lengthAdjust="spacingAndGlyphs">high</text>
<text x="488.20" y="395.20" font-size="13.7" textLength="30.9" lengthAdjust="spacingAndGlyphs">Ly6C</text>
<text x="518.80" y="388.00" font-size="9.5" textLength="3.1" lengthAdjust="spacingAndGlyphs">-</text>
<rect x="448.30" y="492.30" width="19.30" height="40.30" fill="#ff9b9b" stroke="#1c1c1c" stroke-width="1.2" />
<rect x="472.70" y="480.30" width="20.10" height="52.30" fill="#8a8aff" stroke="#1c1c1c" stroke-width="1.2" />
<line x1="443.90" y1="418.00" x2="443.90" y2="533.10" stroke="#262626" stroke-width="1.1" />
<line x1="436.60" y1="532.60" x2="496.40" y2="532.60" stroke="#262626" stroke-width="1.1" />
<line x1="436.90" y1="532.60" x2="443.90" y2="532.60" stroke="#262626" stroke-width="1.1" />
<text x="434.30" y="535.97" font-size="9.4" text-anchor="end">0.0</text>
<line x1="436.90" y1="509.76" x2="443.90" y2="509.76" stroke="#262626" stroke-width="1.1" />
<text x="434.30" y="513.13" font-size="9.4" text-anchor="end">0.2</text>
<line x1="436.90" y1="486.92" x2="443.90" y2="486.92" stroke="#262626" stroke-width="1.1" />
<text x="434.30" y="490.29" font-size="9.4" text-anchor="end">0.4</text>
<line x1="436.90" y1="464.08" x2="443.90" y2="464.08" stroke="#262626" stroke-width="1.1" />
<text x="434.30" y="467.45" font-size="9.4" text-anchor="end">0.6</text>
<line x1="436.90" y1="441.24" x2="443.90" y2="441.24" stroke="#262626" stroke-width="1.1" />
<text x="434.30" y="444.61" font-size="9.4" text-anchor="end">0.8</text>
<line x1="436.90" y1="418.40" x2="443.90" y2="418.40" stroke="#262626" stroke-width="1.1" />
<text x="434.30" y="421.77" font-size="9.4" text-anchor="end">1.0</text>
<line x1="458.10" y1="486.90" x2="458.10" y2="496.70" stroke="#262626" stroke-width="1.0" />
<line x1="453.10" y1="486.90" x2="463.10" y2="486.90" stroke="#262626" stroke-width="1.0" />
<line x1="453.10" y1="496.70" x2="463.10" y2="496.70" stroke="#262626" stroke-width="1.0" />
<line x1="482.30" y1="472.20" x2="482.30" y2="487.60" stroke="#262626" stroke-width="1.0" />
<line x1="477.30" y1="472.20" x2="487.30" y2="472.20" stroke="#262626" stroke-width="1.0" />
<line x1="477.30" y1="487.60" x2="487.30" y2="487.60" stroke="#262626" stroke-width="1.0" />
<circle cx="458.10" cy="465.40" r="2.0" fill="#c4620f"/>
<circle cx="450.00" cy="486.90" r="2.0" fill="#c4620f"/>
<circle cx="465.90" cy="487.60" r="2.0" fill="#c4620f"/>
<circle cx="458.10" cy="490.10" r="2.0" fill="#c4620f"/>
<circle cx="450.00" cy="490.10" r="2.0" fill="#c4620f"/>
<circle cx="465.90" cy="490.10" r="2.0" fill="#c4620f"/>
<circle cx="458.10" cy="495.90" r="2.0" fill="#c4620f"/>
<circle cx="465.90" cy="495.40" r="2.0" fill="#c4620f"/>
<circle cx="458.10" cy="514.50" r="2.0" fill="#c4620f"/>
<circle cx="482.30" cy="428.20" r="2.0" fill="#00007f"/>
<circle cx="482.30" cy="465.60" r="2.0" fill="#00007f"/>
<circle cx="478.10" cy="473.90" r="2.0" fill="#00007f"/>
<circle cx="485.90" cy="477.10" r="2.0" fill="#00007f"/>
<circle cx="478.10" cy="482.70" r="2.0" fill="#00007f"/>
<circle cx="485.90" cy="482.70" r="2.0" fill="#00007f"/>
<circle cx="478.10" cy="498.40" r="2.0" fill="#00007f"/>
<circle cx="485.90" cy="500.30" r="2.0" fill="#00007f"/>
<circle cx="482.30" cy="507.20" r="2.0" fill="#00007f"/>
<line x1="458.10" y1="532.60" x2="458.10" y2="537.80" stroke="#262626" stroke-width="1.1" />
<line x1="482.30" y1="532.60" x2="482.30" y2="537.80" stroke="#262626" stroke-width="1.1" />
<text x="461.80" y="548.50" font-size="12" text-anchor="end" transform="rotate(-45 461.80 548.50)">WT</text>
<text x="486.60" y="548.50" font-size="12" text-anchor="end" transform="rotate(-45 486.60 548.50)">SK930</text>
<g transform="rotate(-90 410.00 473.20)">
<text x="347.80" y="473.20" font-size="9" textLength="60.34" lengthAdjust="spacingAndGlyphs">cells in CD11b</text>
<text x="408.14" y="469.78" font-size="6.3" textLength="3.87" lengthAdjust="spacingAndGlyphs" style="stroke:none">+</text>
<text x="412.01" y="473.20" font-size="9" textLength="24.21" lengthAdjust="spacingAndGlyphs">F4/80</text>
<text x="436.22" y="469.78" font-size="6.3" textLength="3.87" lengthAdjust="spacingAndGlyphs" style="stroke:none">+</text>
<text x="440.09" y="473.20" font-size="9" textLength="25.27" lengthAdjust="spacingAndGlyphs">(1X10</text>
<text x="465.36" y="469.78" font-size="6.3" textLength="3.69" lengthAdjust="spacingAndGlyphs" style="stroke:none">6</text>
<text x="469.05" y="473.20" font-size="9" textLength="3.15" lengthAdjust="spacingAndGlyphs">)</text>
</g>
<text x="556.50" y="381.00" font-size="15" font-weight="bold" fill="#000">j</text>
<text x="597.10" y="391.00" font-size="13.8" textLength="33.8" lengthAdjust="spacingAndGlyphs">Ratio</text>
<rect x="589.50" y="506.10" width="19.70" height="25.10" fill="#ff9b9b" stroke="#1c1c1c" stroke-width="1.2" />
<rect x="614.30" y="482.90" width="19.20" height="48.30" fill="#8a8aff" stroke="#1c1c1c" stroke-width="1.2" />
<line x1="584.80" y1="416.60" x2="584.80" y2="531.70" stroke="#262626" stroke-width="1.1" />
<line x1="576.90" y1="531.20" x2="638.70" y2="531.20" stroke="#262626" stroke-width="1.1" />
<line x1="577.20" y1="531.20" x2="584.80" y2="531.20" stroke="#262626" stroke-width="1.1" />
<text x="575.30" y="534.57" font-size="9.4" text-anchor="end">0</text>
<line x1="577.20" y1="493.20" x2="584.80" y2="493.20" stroke="#262626" stroke-width="1.1" />
<text x="575.30" y="496.57" font-size="9.4" text-anchor="end">5</text>
<line x1="577.20" y1="455.20" x2="584.80" y2="455.20" stroke="#262626" stroke-width="1.1" />
<text x="575.30" y="458.57" font-size="9.4" text-anchor="end">10</text>
<line x1="577.20" y1="417.20" x2="584.80" y2="417.20" stroke="#262626" stroke-width="1.1" />
<text x="575.30" y="420.57" font-size="9.4" text-anchor="end">15</text>
<line x1="599.20" y1="500.80" x2="599.20" y2="510.10" stroke="#262626" stroke-width="1.0" />
<line x1="594.20" y1="500.80" x2="604.20" y2="500.80" stroke="#262626" stroke-width="1.0" />
<line x1="594.20" y1="510.10" x2="604.20" y2="510.10" stroke="#262626" stroke-width="1.0" />
<line x1="623.80" y1="476.00" x2="623.80" y2="489.40" stroke="#262626" stroke-width="1.0" />
<line x1="618.80" y1="476.00" x2="628.80" y2="476.00" stroke="#262626" stroke-width="1.0" />
<line x1="618.80" y1="489.40" x2="628.80" y2="489.40" stroke="#262626" stroke-width="1.0" />
<circle cx="599.20" cy="478.30" r="2.0" fill="#c4620f"/>
<circle cx="599.20" cy="498.50" r="2.0" fill="#c4620f"/>
<circle cx="595.30" cy="503.10" r="2.0" fill="#c4620f"/>
<circle cx="602.90" cy="503.10" r="2.0" fill="#c4620f"/>
<circle cx="599.20" cy="509.20" r="2.0" fill="#c4620f"/>
<circle cx="595.30" cy="509.60" r="2.0" fill="#c4620f"/>
<circle cx="602.90" cy="509.60" r="2.0" fill="#c4620f"/>
<circle cx="595.30" cy="520.80" r="2.0" fill="#c4620f"/>
<circle cx="602.90" cy="518.40" r="2.0" fill="#c4620f"/>
<circle cx="623.80" cy="448.80" r="2.0" fill="#00007f"/>
<circle cx="623.80" cy="460.40" r="2.0" fill="#00007f"/>
<circle cx="623.80" cy="471.30" r="2.0" fill="#00007f"/>
<circle cx="623.80" cy="476.70" r="2.0" fill="#00007f"/>
<circle cx="616.10" cy="489.90" r="2.0" fill="#00007f"/>
<circle cx="623.80" cy="489.90" r="2.0" fill="#00007f"/>
<circle cx="631.70" cy="493.40" r="2.0" fill="#00007f"/>
<circle cx="623.80" cy="496.90" r="2.0" fill="#00007f"/>
<circle cx="623.80" cy="514.70" r="2.0" fill="#00007f"/>
<line x1="599.20" y1="531.20" x2="599.20" y2="536.40" stroke="#262626" stroke-width="1.1" />
<line x1="623.80" y1="531.20" x2="623.80" y2="536.40" stroke="#262626" stroke-width="1.1" />
<text x="603.10" y="547.50" font-size="12" text-anchor="end" transform="rotate(-45 603.10 547.50)">WT</text>
<text x="628.60" y="547.50" font-size="12" text-anchor="end" transform="rotate(-45 628.60 547.50)">SK930</text>
<text x="608.90" y="425.62" font-size="7.6" text-anchor="middle" textLength="29.8" lengthAdjust="spacingAndGlyphs" style="stroke:none"><tspan font-style="italic">P</tspan> = 0.017</text>
<path d="M599.4,433.4 V429.3 H623.3 V433.4" fill="none" stroke="#111" stroke-width="1.1" />
<g transform="rotate(-90 560.80 470.70)">
<text x="492.30" y="470.70" font-size="9.6" textLength="12.32" lengthAdjust="spacingAndGlyphs">CX</text>
<text x="504.62" y="473.10" font-size="6.72" textLength="3.45" lengthAdjust="spacingAndGlyphs" style="stroke:none">3</text>
<text x="508.07" y="470.70" font-size="9.6" textLength="17.74" lengthAdjust="spacingAndGlyphs">CR1</text>
<text x="525.82" y="467.05" font-size="6.72" textLength="9.32" lengthAdjust="spacingAndGlyphs" style="stroke:none">low</text>
<text x="535.13" y="470.70" font-size="9.6" textLength="20.38" lengthAdjust="spacingAndGlyphs">Ly6C</text>
<text x="555.51" y="467.05" font-size="6.72" textLength="3.63" lengthAdjust="spacingAndGlyphs" style="stroke:none">+</text>
<text x="559.14" y="470.70" font-size="9.6" textLength="14.79" lengthAdjust="spacingAndGlyphs">/CX</text>
<text x="573.92" y="473.10" font-size="6.72" textLength="3.45" lengthAdjust="spacingAndGlyphs" style="stroke:none">3</text>
<text x="577.37" y="470.70" font-size="9.6" textLength="17.74" lengthAdjust="spacingAndGlyphs">CR1</text>
<text x="595.12" y="467.05" font-size="6.72" textLength="11.74" lengthAdjust="spacingAndGlyphs" style="stroke:none">high</text>
<text x="606.86" y="470.70" font-size="9.6" textLength="20.38" lengthAdjust="spacingAndGlyphs">Ly6C</text>
<text x="627.23" y="467.05" font-size="6.72" textLength="2.07" lengthAdjust="spacingAndGlyphs" style="stroke:none">-</text>
</g>
</svg>
</body></html>
